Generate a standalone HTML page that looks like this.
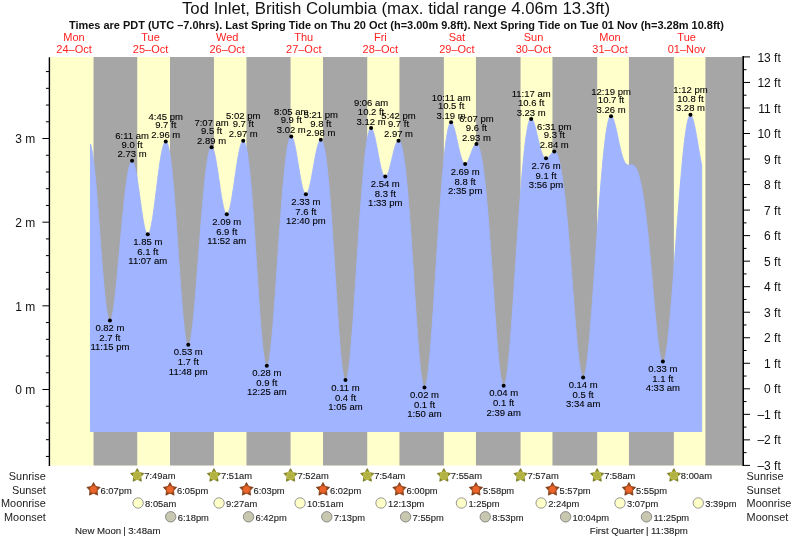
<!DOCTYPE html>
<html><head><meta charset="utf-8"><style>
html,body{margin:0;padding:0;background:#fff;}
svg{display:block;will-change:transform}
text{font-family:'Liberation Sans',Arial,sans-serif;fill:#111}
.lab{font-size:9.5px;text-anchor:middle;fill:#000;stroke:#000;stroke-width:0.1px}
.ax{font-size:12px}
.day{font-size:11px;fill:#f22;text-anchor:middle}
.title{font-size:16.8px;text-anchor:middle}
.sub{font-size:10.97px;font-weight:bold;text-anchor:middle}
.row{font-size:10.9px;fill:#222}
.bt{font-size:9.85px;fill:#222;stroke:#222;stroke-width:0.12px}
</style></head><body>
<svg width="793" height="539" viewBox="0 0 793 539">
<rect x="50" y="57" width="692.6" height="408.5" fill="#ffffcc"/>
<rect x="93.53" y="57" width="43.71" height="408.5" fill="#a6a6a6"/>
<rect x="170.01" y="57" width="43.93" height="408.5" fill="#a6a6a6"/>
<rect x="246.48" y="57" width="44.08" height="408.5" fill="#a6a6a6"/>
<rect x="323.00" y="57" width="44.24" height="408.5" fill="#a6a6a6"/>
<rect x="399.47" y="57" width="44.40" height="408.5" fill="#a6a6a6"/>
<rect x="475.94" y="57" width="44.62" height="408.5" fill="#a6a6a6"/>
<rect x="552.46" y="57" width="44.72" height="408.5" fill="#a6a6a6"/>
<rect x="628.93" y="57" width="44.94" height="408.5" fill="#a6a6a6"/>
<rect x="705.40" y="57" width="37.20" height="408.5" fill="#a6a6a6"/>
<polygon points="90.50,431.53 90.50,144.06 90.66,144.59 90.82,145.17 90.98,145.78 91.14,146.44 91.30,147.14 91.46,147.87 91.62,148.65 91.78,149.47 91.94,150.33 92.10,151.23 92.25,152.17 92.41,153.15 92.57,154.17 92.73,155.23 92.89,156.32 93.05,157.46 93.21,158.64 93.37,159.86 93.53,161.11 93.69,162.41 93.85,163.74 94.01,165.11 94.17,166.51 94.33,167.95 94.49,169.43 94.65,170.94 94.81,172.49 94.97,174.07 95.13,175.69 95.29,177.34 95.45,179.02 95.61,180.73 95.76,182.47 95.92,184.24 96.08,186.04 96.24,187.87 96.40,189.73 96.56,191.61 96.72,193.51 96.88,195.44 97.04,197.40 97.20,199.37 97.36,201.37 97.52,203.38 97.68,205.42 97.84,207.47 98.00,209.54 98.16,211.62 98.32,213.72 98.48,215.82 98.64,217.94 98.80,220.07 98.96,222.21 99.11,224.36 99.27,226.51 99.43,228.67 99.59,230.83 99.75,232.99 99.91,235.16 100.07,237.32 100.23,239.48 100.39,241.64 100.55,243.79 100.71,245.93 100.87,248.07 101.03,250.20 101.19,252.32 101.35,254.43 101.51,256.52 101.67,258.60 101.83,260.67 101.99,262.72 102.15,264.75 102.31,266.76 102.47,268.75 102.62,270.71 102.78,272.66 102.94,274.58 103.10,276.47 103.26,278.34 103.42,280.17 103.58,281.98 103.74,283.76 103.90,285.51 104.06,287.22 104.22,288.90 104.38,290.55 104.54,292.16 104.70,293.73 104.86,295.26 105.02,296.76 105.18,298.21 105.34,299.63 105.50,301.01 105.66,302.34 105.82,303.63 105.97,304.87 106.13,306.07 106.29,307.23 106.45,308.34 106.61,309.40 106.77,310.42 106.93,311.39 107.09,312.31 107.25,313.19 107.41,314.01 107.57,314.79 107.73,315.51 107.89,316.19 108.05,316.81 108.21,317.39 108.37,317.91 108.53,318.38 108.69,318.80 108.85,319.17 109.01,319.49 109.17,319.76 109.33,319.98 109.48,320.14 109.64,320.26 109.80,320.32 109.96,320.33 110.12,320.30 110.28,320.21 110.44,320.07 110.60,319.88 110.76,319.64 110.92,319.35 111.08,319.01 111.24,318.63 111.40,318.19 111.56,317.71 111.72,317.18 111.88,316.61 112.04,315.99 112.20,315.32 112.36,314.61 112.52,313.86 112.68,313.06 112.83,312.22 112.99,311.34 113.15,310.42 113.31,309.46 113.47,308.45 113.63,307.41 113.79,306.34 113.95,305.22 114.11,304.07 114.27,302.89 114.43,301.67 114.59,300.41 114.75,299.13 114.91,297.81 115.07,296.47 115.23,295.09 115.39,293.69 115.55,292.26 115.71,290.80 115.87,289.32 116.03,287.82 116.19,286.29 116.34,284.74 116.50,283.17 116.66,281.58 116.82,279.97 116.98,278.34 117.14,276.70 117.30,275.04 117.46,273.37 117.62,271.68 117.78,269.98 117.94,268.27 118.10,266.55 118.26,264.81 118.42,263.07 118.58,261.33 118.74,259.57 118.90,257.81 119.06,256.05 119.22,254.28 119.38,252.50 119.54,250.73 119.69,248.96 119.85,247.18 120.01,245.41 120.17,243.63 120.33,241.86 120.49,240.09 120.65,238.33 120.81,236.57 120.97,234.81 121.13,233.07 121.29,231.32 121.45,229.59 121.61,227.87 121.77,226.15 121.93,224.44 122.09,222.75 122.25,221.06 122.41,219.39 122.57,217.73 122.73,216.08 122.89,214.45 123.05,212.83 123.20,211.23 123.36,209.64 123.52,208.06 123.68,206.51 123.84,204.97 124.00,203.45 124.16,201.95 124.32,200.46 124.48,199.00 124.64,197.56 124.80,196.13 124.96,194.73 125.12,193.35 125.28,191.99 125.44,190.66 125.60,189.34 125.76,188.05 125.92,186.79 126.08,185.55 126.24,184.34 126.40,183.15 126.55,181.98 126.71,180.85 126.87,179.74 127.03,178.66 127.19,177.61 127.35,176.58 127.51,175.59 127.67,174.62 127.83,173.68 127.99,172.78 128.15,171.91 128.31,171.06 128.47,170.25 128.63,169.47 128.79,168.73 128.95,168.01 129.11,167.33 129.27,166.68 129.43,166.07 129.59,165.49 129.75,164.95 129.91,164.44 130.06,163.97 130.22,163.53 130.38,163.13 130.54,162.76 130.70,162.43 130.86,162.14 131.02,161.89 131.18,161.67 131.34,161.48 131.50,161.34 131.66,161.23 131.82,161.16 131.98,161.12 132.14,161.13 132.30,161.17 132.46,161.24 132.62,161.36 132.78,161.51 132.94,161.70 133.10,161.92 133.26,162.18 133.41,162.48 133.57,162.81 133.73,163.18 133.89,163.58 134.05,164.01 134.21,164.49 134.37,164.99 134.53,165.53 134.69,166.10 134.85,166.70 135.01,167.34 135.17,168.00 135.33,168.70 135.49,169.42 135.65,170.17 135.81,170.96 135.97,171.77 136.13,172.60 136.29,173.46 136.45,174.35 136.61,175.26 136.77,176.19 136.92,177.15 137.08,178.13 137.24,179.12 137.40,180.14 137.56,181.17 137.72,182.22 137.88,183.29 138.04,184.37 138.20,185.46 138.36,186.57 138.52,187.69 138.68,188.82 138.84,189.96 139.00,191.11 139.16,192.26 139.32,193.42 139.48,194.58 139.64,195.75 139.80,196.92 139.96,198.09 140.12,199.26 140.27,200.42 140.43,201.59 140.59,202.75 140.75,203.90 140.91,205.05 141.07,206.19 141.23,207.33 141.39,208.45 141.55,209.56 141.71,210.66 141.87,211.75 142.03,212.82 142.19,213.88 142.35,214.92 142.51,215.94 142.67,216.95 142.83,217.93 142.99,218.90 143.15,219.84 143.31,220.76 143.47,221.65 143.63,222.53 143.78,223.37 143.94,224.19 144.10,224.99 144.26,225.76 144.42,226.49 144.58,227.20 144.74,227.88 144.90,228.53 145.06,229.14 145.22,229.73 145.38,230.28 145.54,230.80 145.70,231.29 145.86,231.74 146.02,232.15 146.18,232.54 146.34,232.88 146.50,233.19 146.66,233.47 146.82,233.71 146.98,233.91 147.13,234.07 147.29,234.20 147.45,234.29 147.61,234.34 147.77,234.36 147.93,234.34 148.09,234.28 148.25,234.18 148.41,234.05 148.57,233.88 148.73,233.67 148.89,233.42 149.05,233.14 149.21,232.82 149.37,232.46 149.53,232.07 149.69,231.64 149.85,231.18 150.01,230.68 150.17,230.15 150.33,229.58 150.49,228.98 150.64,228.34 150.80,227.68 150.96,226.98 151.12,226.25 151.28,225.48 151.44,224.69 151.60,223.87 151.76,223.02 151.92,222.14 152.08,221.24 152.24,220.31 152.40,219.35 152.56,218.36 152.72,217.36 152.88,216.33 153.04,215.28 153.20,214.20 153.36,213.11 153.52,211.99 153.68,210.86 153.84,209.71 153.99,208.54 154.15,207.36 154.31,206.17 154.47,204.95 154.63,203.73 154.79,202.50 154.95,201.25 155.11,200.00 155.27,198.73 155.43,197.46 155.59,196.19 155.75,194.90 155.91,193.62 156.07,192.33 156.23,191.03 156.39,189.74 156.55,188.45 156.71,187.15 156.87,185.86 157.03,184.57 157.19,183.29 157.35,182.01 157.50,180.74 157.66,179.47 157.82,178.21 157.98,176.96 158.14,175.72 158.30,174.49 158.46,173.27 158.62,172.06 158.78,170.87 158.94,169.69 159.10,168.52 159.26,167.37 159.42,166.24 159.58,165.12 159.74,164.02 159.90,162.94 160.06,161.88 160.22,160.84 160.38,159.82 160.54,158.83 160.70,157.85 160.85,156.90 161.01,155.97 161.17,155.06 161.33,154.18 161.49,153.33 161.65,152.50 161.81,151.69 161.97,150.92 162.13,150.17 162.29,149.44 162.45,148.75 162.61,148.09 162.77,147.45 162.93,146.85 163.09,146.27 163.25,145.72 163.41,145.21 163.57,144.73 163.73,144.28 163.89,143.86 164.05,143.47 164.21,143.12 164.36,142.80 164.52,142.51 164.68,142.26 164.84,142.04 165.00,141.85 165.16,141.70 165.32,141.59 165.48,141.51 165.64,141.47 165.80,141.46 165.96,141.49 166.12,141.56 166.28,141.66 166.44,141.80 166.60,141.98 166.76,142.19 166.92,142.45 167.08,142.74 167.24,143.07 167.40,143.43 167.56,143.84 167.71,144.29 167.87,144.77 168.03,145.30 168.19,145.86 168.35,146.46 168.51,147.11 168.67,147.79 168.83,148.51 168.99,149.27 169.15,150.08 169.31,150.92 169.47,151.80 169.63,152.73 169.79,153.69 169.95,154.69 170.11,155.74 170.27,156.82 170.43,157.95 170.59,159.11 170.75,160.31 170.91,161.56 171.07,162.84 171.22,164.16 171.38,165.52 171.54,166.92 171.70,168.36 171.86,169.84 172.02,171.35 172.18,172.90 172.34,174.49 172.50,176.11 172.66,177.77 172.82,179.47 172.98,181.20 173.14,182.96 173.30,184.76 173.46,186.59 173.62,188.45 173.78,190.35 173.94,192.27 174.10,194.23 174.26,196.21 174.42,198.22 174.57,200.26 174.73,202.33 174.89,204.42 175.05,206.54 175.21,208.68 175.37,210.84 175.53,213.03 175.69,215.23 175.85,217.46 176.01,219.70 176.17,221.96 176.33,224.23 176.49,226.52 176.65,228.82 176.81,231.14 176.97,233.46 177.13,235.80 177.29,238.14 177.45,240.49 177.61,242.84 177.77,245.20 177.93,247.56 178.08,249.92 178.24,252.28 178.40,254.64 178.56,257.00 178.72,259.35 178.88,261.70 179.04,264.04 179.20,266.37 179.36,268.69 179.52,271.00 179.68,273.30 179.84,275.58 180.00,277.84 180.16,280.09 180.32,282.32 180.48,284.53 180.64,286.72 180.80,288.89 180.96,291.03 181.12,293.14 181.28,295.23 181.43,297.29 181.59,299.32 181.75,301.32 181.91,303.29 182.07,305.23 182.23,307.13 182.39,309.00 182.55,310.83 182.71,312.62 182.87,314.37 183.03,316.09 183.19,317.76 183.35,319.39 183.51,320.97 183.67,322.52 183.83,324.02 183.99,325.47 184.15,326.88 184.31,328.23 184.47,329.54 184.63,330.81 184.79,332.02 184.94,333.18 185.10,334.29 185.26,335.35 185.42,336.36 185.58,337.31 185.74,338.21 185.90,339.06 186.06,339.85 186.22,340.59 186.38,341.27 186.54,341.90 186.70,342.47 186.86,342.99 187.02,343.45 187.18,343.85 187.34,344.20 187.50,344.49 187.66,344.73 187.82,344.90 187.98,345.03 188.14,345.09 188.29,345.10 188.45,345.06 188.61,344.95 188.77,344.79 188.93,344.58 189.09,344.31 189.25,343.99 189.41,343.61 189.57,343.17 189.73,342.69 189.89,342.15 190.05,341.55 190.21,340.91 190.37,340.21 190.53,339.46 190.69,338.66 190.85,337.81 191.01,336.91 191.17,335.96 191.33,334.97 191.49,333.93 191.65,332.84 191.80,331.70 191.96,330.53 192.12,329.30 192.28,328.04 192.44,326.73 192.60,325.38 192.76,323.99 192.92,322.57 193.08,321.10 193.24,319.60 193.40,318.06 193.56,316.48 193.72,314.88 193.88,313.24 194.04,311.56 194.20,309.86 194.36,308.13 194.52,306.37 194.68,304.58 194.84,302.76 195.00,300.92 195.15,299.06 195.31,297.17 195.47,295.26 195.63,293.33 195.79,291.38 195.95,289.41 196.11,287.42 196.27,285.42 196.43,283.41 196.59,281.38 196.75,279.33 196.91,277.28 197.07,275.21 197.23,273.14 197.39,271.05 197.55,268.96 197.71,266.86 197.87,264.76 198.03,262.66 198.19,260.54 198.35,258.43 198.51,256.32 198.66,254.20 198.82,252.09 198.98,249.98 199.14,247.87 199.30,245.76 199.46,243.66 199.62,241.57 199.78,239.48 199.94,237.39 200.10,235.32 200.26,233.25 200.42,231.20 200.58,229.15 200.74,227.11 200.90,225.09 201.06,223.08 201.22,221.08 201.38,219.10 201.54,217.13 201.70,215.17 201.86,213.23 202.01,211.31 202.17,209.41 202.33,207.52 202.49,205.66 202.65,203.81 202.81,201.98 202.97,200.18 203.13,198.39 203.29,196.63 203.45,194.89 203.61,193.17 203.77,191.47 203.93,189.80 204.09,188.16 204.25,186.53 204.41,184.94 204.57,183.37 204.73,181.83 204.89,180.31 205.05,178.83 205.21,177.37 205.37,175.94 205.52,174.54 205.68,173.17 205.84,171.83 206.00,170.52 206.16,169.24 206.32,167.99 206.48,166.78 206.64,165.60 206.80,164.45 206.96,163.33 207.12,162.25 207.28,161.21 207.44,160.19 207.60,159.22 207.76,158.28 207.92,157.37 208.08,156.50 208.24,155.67 208.40,154.87 208.56,154.11 208.72,153.39 208.87,152.71 209.03,152.07 209.19,151.46 209.35,150.89 209.51,150.36 209.67,149.87 209.83,149.42 209.99,149.01 210.15,148.64 210.31,148.30 210.47,148.01 210.63,147.76 210.79,147.54 210.95,147.37 211.11,147.23 211.27,147.13 211.43,147.08 211.59,147.06 211.75,147.08 211.91,147.14 212.07,147.24 212.23,147.38 212.38,147.55 212.54,147.76 212.70,148.01 212.86,148.30 213.02,148.62 213.18,148.98 213.34,149.38 213.50,149.81 213.66,150.27 213.82,150.77 213.98,151.30 214.14,151.87 214.30,152.46 214.46,153.09 214.62,153.75 214.78,154.43 214.94,155.15 215.10,155.89 215.26,156.66 215.42,157.46 215.58,158.28 215.73,159.13 215.89,160.00 216.05,160.89 216.21,161.81 216.37,162.74 216.53,163.70 216.69,164.67 216.85,165.66 217.01,166.66 217.17,167.68 217.33,168.71 217.49,169.76 217.65,170.82 217.81,171.88 217.97,172.96 218.13,174.04 218.29,175.13 218.45,176.23 218.61,177.33 218.77,178.43 218.93,179.54 219.09,180.64 219.24,181.75 219.40,182.85 219.56,183.95 219.72,185.04 219.88,186.14 220.04,187.22 220.20,188.29 220.36,189.36 220.52,190.42 220.68,191.46 220.84,192.50 221.00,193.52 221.16,194.52 221.32,195.51 221.48,196.49 221.64,197.44 221.80,198.38 221.96,199.30 222.12,200.20 222.28,201.08 222.44,201.93 222.59,202.76 222.75,203.57 222.91,204.35 223.07,205.11 223.23,205.84 223.39,206.54 223.55,207.22 223.71,207.87 223.87,208.49 224.03,209.08 224.19,209.63 224.35,210.16 224.51,210.66 224.67,211.12 224.83,211.56 224.99,211.96 225.15,212.32 225.31,212.66 225.47,212.96 225.63,213.23 225.79,213.46 225.95,213.65 226.10,213.82 226.26,213.95 226.42,214.04 226.58,214.10 226.74,214.12 226.90,214.11 227.06,214.07 227.22,213.98 227.38,213.87 227.54,213.72 227.70,213.53 227.86,213.31 228.02,213.06 228.18,212.77 228.34,212.45 228.50,212.10 228.66,211.71 228.82,211.30 228.98,210.85 229.14,210.36 229.30,209.85 229.45,209.31 229.61,208.73 229.77,208.13 229.93,207.50 230.09,206.84 230.25,206.15 230.41,205.44 230.57,204.70 230.73,203.93 230.89,203.14 231.05,202.32 231.21,201.49 231.37,200.63 231.53,199.75 231.69,198.84 231.85,197.92 232.01,196.98 232.17,196.02 232.33,195.05 232.49,194.06 232.65,193.05 232.81,192.03 232.96,191.00 233.12,189.95 233.28,188.89 233.44,187.83 233.60,186.75 233.76,185.67 233.92,184.58 234.08,183.48 234.24,182.38 234.40,181.27 234.56,180.16 234.72,179.05 234.88,177.94 235.04,176.83 235.20,175.72 235.36,174.61 235.52,173.50 235.68,172.40 235.84,171.31 236.00,170.22 236.16,169.14 236.31,168.06 236.47,167.00 236.63,165.94 236.79,164.90 236.95,163.87 237.11,162.85 237.27,161.84 237.43,160.85 237.59,159.88 237.75,158.92 237.91,157.98 238.07,157.05 238.23,156.15 238.39,155.26 238.55,154.40 238.71,153.55 238.87,152.73 239.03,151.93 239.19,151.15 239.35,150.40 239.51,149.67 239.67,148.97 239.82,148.29 239.98,147.64 240.14,147.02 240.30,146.42 240.46,145.85 240.62,145.31 240.78,144.80 240.94,144.31 241.10,143.86 241.26,143.44 241.42,143.05 241.58,142.69 241.74,142.36 241.90,142.06 242.06,141.80 242.22,141.56 242.38,141.36 242.54,141.20 242.70,141.07 242.86,140.97 243.02,140.91 243.17,140.88 243.33,140.88 243.49,140.92 243.65,141.00 243.81,141.11 243.97,141.26 244.13,141.45 244.29,141.67 244.45,141.92 244.61,142.22 244.77,142.55 244.93,142.92 245.09,143.32 245.25,143.76 245.41,144.25 245.57,144.76 245.73,145.32 245.89,145.92 246.05,146.55 246.21,147.22 246.37,147.93 246.53,148.68 246.68,149.47 246.84,150.29 247.00,151.16 247.16,152.06 247.32,153.00 247.48,153.99 247.64,155.01 247.80,156.07 247.96,157.16 248.12,158.30 248.28,159.48 248.44,160.69 248.60,161.95 248.76,163.24 248.92,164.57 249.08,165.94 249.24,167.35 249.40,168.79 249.56,170.27 249.72,171.80 249.88,173.35 250.03,174.95 250.19,176.58 250.35,178.25 250.51,179.95 250.67,181.69 250.83,183.47 250.99,185.28 251.15,187.12 251.31,189.00 251.47,190.91 251.63,192.85 251.79,194.83 251.95,196.83 252.11,198.87 252.27,200.94 252.43,203.03 252.59,205.16 252.75,207.31 252.91,209.49 253.07,211.70 253.23,213.93 253.39,216.18 253.54,218.46 253.70,220.76 253.86,223.08 254.02,225.42 254.18,227.78 254.34,230.16 254.50,232.56 254.66,234.97 254.82,237.40 254.98,239.84 255.14,242.29 255.30,244.75 255.46,247.23 255.62,249.71 255.78,252.20 255.94,254.69 256.10,257.19 256.26,259.69 256.42,262.19 256.58,264.69 256.74,267.20 256.90,269.70 257.05,272.19 257.21,274.68 257.37,277.16 257.53,279.64 257.69,282.10 257.85,284.56 258.01,287.00 258.17,289.43 258.33,291.84 258.49,294.23 258.65,296.61 258.81,298.97 258.97,301.30 259.13,303.62 259.29,305.90 259.45,308.17 259.61,310.40 259.77,312.61 259.93,314.79 260.09,316.94 260.25,319.06 260.40,321.14 260.56,323.19 260.72,325.20 260.88,327.17 261.04,329.11 261.20,331.01 261.36,332.87 261.52,334.68 261.68,336.45 261.84,338.18 262.00,339.87 262.16,341.50 262.32,343.09 262.48,344.64 262.64,346.13 262.80,347.57 262.96,348.97 263.12,350.31 263.28,351.60 263.44,352.84 263.60,354.03 263.76,355.16 263.91,356.23 264.07,357.25 264.23,358.22 264.39,359.12 264.55,359.98 264.71,360.77 264.87,361.50 265.03,362.18 265.19,362.80 265.35,363.36 265.51,363.86 265.67,364.31 265.83,364.69 265.99,365.01 266.15,365.28 266.31,365.48 266.47,365.63 266.63,365.71 266.79,365.74 266.95,365.70 267.11,365.61 267.26,365.45 267.42,365.24 267.58,364.97 267.74,364.64 267.90,364.25 268.06,363.81 268.22,363.30 268.38,362.74 268.54,362.12 268.70,361.45 268.86,360.72 269.02,359.93 269.18,359.10 269.34,358.20 269.50,357.26 269.66,356.26 269.82,355.20 269.98,354.10 270.14,352.95 270.30,351.75 270.46,350.49 270.62,349.19 270.77,347.85 270.93,346.46 271.09,345.02 271.25,343.53 271.41,342.01 271.57,340.44 271.73,338.83 271.89,337.18 272.05,335.49 272.21,333.76 272.37,331.99 272.53,330.19 272.69,328.36 272.85,326.48 273.01,324.58 273.17,322.64 273.33,320.68 273.49,318.68 273.65,316.66 273.81,314.61 273.97,312.53 274.12,310.43 274.28,308.30 274.44,306.16 274.60,303.99 274.76,301.80 274.92,299.59 275.08,297.36 275.24,295.12 275.40,292.86 275.56,290.59 275.72,288.31 275.88,286.01 276.04,283.70 276.20,281.39 276.36,279.06 276.52,276.73 276.68,274.39 276.84,272.04 277.00,269.69 277.16,267.34 277.32,264.99 277.48,262.63 277.63,260.28 277.79,257.92 277.95,255.57 278.11,253.22 278.27,250.88 278.43,248.54 278.59,246.20 278.75,243.87 278.91,241.55 279.07,239.24 279.23,236.94 279.39,234.65 279.55,232.36 279.71,230.10 279.87,227.84 280.03,225.59 280.19,223.37 280.35,221.15 280.51,218.95 280.67,216.77 280.83,214.60 280.98,212.46 281.14,210.33 281.30,208.22 281.46,206.13 281.62,204.06 281.78,202.01 281.94,199.98 282.10,197.98 282.26,196.00 282.42,194.04 282.58,192.11 282.74,190.20 282.90,188.31 283.06,186.45 283.22,184.62 283.38,182.82 283.54,181.04 283.70,179.29 283.86,177.57 284.02,175.88 284.18,174.21 284.34,172.58 284.49,170.98 284.65,169.41 284.81,167.87 284.97,166.36 285.13,164.88 285.29,163.44 285.45,162.03 285.61,160.65 285.77,159.31 285.93,158.00 286.09,156.73 286.25,155.49 286.41,154.29 286.57,153.13 286.73,152.00 286.89,150.91 287.05,149.85 287.21,148.83 287.37,147.85 287.53,146.91 287.69,146.01 287.84,145.14 288.00,144.31 288.16,143.53 288.32,142.78 288.48,142.07 288.64,141.40 288.80,140.77 288.96,140.19 289.12,139.64 289.28,139.13 289.44,138.66 289.60,138.23 289.76,137.84 289.92,137.50 290.08,137.19 290.24,136.92 290.40,136.69 290.56,136.51 290.72,136.36 290.88,136.25 291.04,136.18 291.20,136.15 291.35,136.16 291.51,136.21 291.67,136.29 291.83,136.41 291.99,136.57 292.15,136.77 292.31,137.01 292.47,137.28 292.63,137.58 292.79,137.92 292.95,138.29 293.11,138.70 293.27,139.14 293.43,139.61 293.59,140.12 293.75,140.65 293.91,141.21 294.07,141.81 294.23,142.43 294.39,143.08 294.55,143.75 294.70,144.45 294.86,145.18 295.02,145.93 295.18,146.70 295.34,147.49 295.50,148.31 295.66,149.14 295.82,149.99 295.98,150.86 296.14,151.75 296.30,152.65 296.46,153.56 296.62,154.49 296.78,155.43 296.94,156.38 297.10,157.34 297.26,158.31 297.42,159.28 297.58,160.26 297.74,161.25 297.90,162.24 298.06,163.23 298.21,164.22 298.37,165.22 298.53,166.21 298.69,167.20 298.85,168.18 299.01,169.17 299.17,170.14 299.33,171.11 299.49,172.07 299.65,173.03 299.81,173.97 299.97,174.90 300.13,175.82 300.29,176.73 300.45,177.62 300.61,178.50 300.77,179.37 300.93,180.21 301.09,181.04 301.25,181.85 301.41,182.64 301.56,183.41 301.72,184.16 301.88,184.88 302.04,185.59 302.20,186.27 302.36,186.92 302.52,187.56 302.68,188.16 302.84,188.74 303.00,189.30 303.16,189.82 303.32,190.32 303.48,190.80 303.64,191.24 303.80,191.65 303.96,192.04 304.12,192.39 304.28,192.72 304.44,193.02 304.60,193.28 304.76,193.52 304.92,193.72 305.07,193.89 305.23,194.03 305.39,194.15 305.55,194.23 305.71,194.27 305.87,194.29 306.03,194.28 306.19,194.23 306.35,194.16 306.51,194.05 306.67,193.91 306.83,193.75 306.99,193.55 307.15,193.32 307.31,193.06 307.47,192.78 307.63,192.46 307.79,192.12 307.95,191.75 308.11,191.35 308.27,190.92 308.42,190.47 308.58,189.99 308.74,189.49 308.90,188.96 309.06,188.41 309.22,187.83 309.38,187.23 309.54,186.61 309.70,185.97 309.86,185.30 310.02,184.62 310.18,183.91 310.34,183.19 310.50,182.45 310.66,181.69 310.82,180.92 310.98,180.13 311.14,179.33 311.30,178.52 311.46,177.69 311.62,176.85 311.78,176.00 311.93,175.14 312.09,174.27 312.25,173.39 312.41,172.51 312.57,171.62 312.73,170.73 312.89,169.83 313.05,168.93 313.21,168.03 313.37,167.12 313.53,166.22 313.69,165.32 313.85,164.42 314.01,163.52 314.17,162.63 314.33,161.74 314.49,160.86 314.65,159.98 314.81,159.11 314.97,158.26 315.13,157.41 315.28,156.57 315.44,155.74 315.60,154.93 315.76,154.13 315.92,153.34 316.08,152.57 316.24,151.82 316.40,151.08 316.56,150.36 316.72,149.65 316.88,148.97 317.04,148.31 317.20,147.67 317.36,147.04 317.52,146.45 317.68,145.87 317.84,145.32 318.00,144.79 318.16,144.28 318.32,143.80 318.48,143.35 318.64,142.92 318.79,142.52 318.95,142.15 319.11,141.81 319.27,141.49 319.43,141.21 319.59,140.95 319.75,140.72 319.91,140.52 320.07,140.36 320.23,140.22 320.39,140.12 320.55,140.05 320.71,140.01 320.87,140.00 321.03,140.02 321.19,140.08 321.35,140.17 321.51,140.30 321.67,140.46 321.83,140.65 321.99,140.88 322.14,141.14 322.30,141.43 322.46,141.77 322.62,142.13 322.78,142.53 322.94,142.97 323.10,143.44 323.26,143.95 323.42,144.49 323.58,145.07 323.74,145.68 323.90,146.34 324.06,147.02 324.22,147.75 324.38,148.51 324.54,149.30 324.70,150.13 324.86,151.00 325.02,151.91 325.18,152.85 325.34,153.83 325.50,154.84 325.65,155.90 325.81,156.98 325.97,158.11 326.13,159.27 326.29,160.47 326.45,161.70 326.61,162.97 326.77,164.28 326.93,165.62 327.09,167.00 327.25,168.42 327.41,169.87 327.57,171.36 327.73,172.88 327.89,174.44 328.05,176.03 328.21,177.66 328.37,179.32 328.53,181.02 328.69,182.75 328.85,184.52 329.00,186.32 329.16,188.15 329.32,190.01 329.48,191.91 329.64,193.84 329.80,195.80 329.96,197.79 330.12,199.81 330.28,201.87 330.44,203.95 330.60,206.06 330.76,208.20 330.92,210.36 331.08,212.56 331.24,214.78 331.40,217.02 331.56,219.29 331.72,221.58 331.88,223.90 332.04,226.24 332.20,228.60 332.36,230.98 332.51,233.38 332.67,235.79 332.83,238.23 332.99,240.68 333.15,243.15 333.31,245.63 333.47,248.12 333.63,250.63 333.79,253.15 333.95,255.67 334.11,258.21 334.27,260.75 334.43,263.30 334.59,265.86 334.75,268.41 334.91,270.97 335.07,273.53 335.23,276.09 335.39,278.65 335.55,281.20 335.71,283.75 335.86,286.30 336.02,288.83 336.18,291.36 336.34,293.88 336.50,296.39 336.66,298.88 336.82,301.36 336.98,303.82 337.14,306.27 337.30,308.69 337.46,311.10 337.62,313.49 337.78,315.85 337.94,318.19 338.10,320.50 338.26,322.79 338.42,325.05 338.58,327.28 338.74,329.48 338.90,331.64 339.06,333.78 339.22,335.87 339.37,337.94 339.53,339.96 339.69,341.95 339.85,343.89 340.01,345.80 340.17,347.67 340.33,349.49 340.49,351.26 340.65,353.00 340.81,354.68 340.97,356.32 341.13,357.91 341.29,359.46 341.45,360.95 341.61,362.39 341.77,363.78 341.93,365.12 342.09,366.41 342.25,367.64 342.41,368.81 342.57,369.94 342.72,371.00 342.88,372.01 343.04,372.97 343.20,373.86 343.36,374.70 343.52,375.48 343.68,376.20 343.84,376.86 344.00,377.46 344.16,378.00 344.32,378.49 344.48,378.91 344.64,379.27 344.80,379.57 344.96,379.81 345.12,379.99 345.28,380.11 345.44,380.17 345.60,380.17 345.76,380.10 345.92,379.98 346.08,379.80 346.23,379.55 346.39,379.25 346.55,378.89 346.71,378.46 346.87,377.98 347.03,377.44 347.19,376.84 347.35,376.19 347.51,375.47 347.67,374.70 347.83,373.87 347.99,372.99 348.15,372.05 348.31,371.06 348.47,370.01 348.63,368.91 348.79,367.76 348.95,366.56 349.11,365.30 349.27,364.00 349.43,362.64 349.58,361.24 349.74,359.79 349.90,358.29 350.06,356.75 350.22,355.16 350.38,353.52 350.54,351.85 350.70,350.13 350.86,348.37 351.02,346.57 351.18,344.73 351.34,342.86 351.50,340.95 351.66,339.00 351.82,337.02 351.98,335.00 352.14,332.95 352.30,330.87 352.46,328.76 352.62,326.62 352.78,324.46 352.94,322.26 353.09,320.05 353.25,317.80 353.41,315.54 353.57,313.25 353.73,310.94 353.89,308.61 354.05,306.27 354.21,303.91 354.37,301.53 354.53,299.13 354.69,296.72 354.85,294.30 355.01,291.87 355.17,289.43 355.33,286.98 355.49,284.52 355.65,282.05 355.81,279.58 355.97,277.10 356.13,274.62 356.29,272.14 356.44,269.65 356.60,267.17 356.76,264.68 356.92,262.20 357.08,259.71 357.24,257.24 357.40,254.76 357.56,252.29 357.72,249.83 357.88,247.37 358.04,244.92 358.20,242.48 358.36,240.05 358.52,237.63 358.68,235.22 358.84,232.83 359.00,230.44 359.16,228.07 359.32,225.72 359.48,223.37 359.64,221.05 359.80,218.74 359.95,216.45 360.11,214.17 360.27,211.92 360.43,209.68 360.59,207.46 360.75,205.26 360.91,203.09 361.07,200.93 361.23,198.80 361.39,196.69 361.55,194.60 361.71,192.54 361.87,190.50 362.03,188.49 362.19,186.50 362.35,184.54 362.51,182.60 362.67,180.69 362.83,178.81 362.99,176.96 363.15,175.14 363.30,173.34 363.46,171.57 363.62,169.84 363.78,168.13 363.94,166.46 364.10,164.81 364.26,163.20 364.42,161.62 364.58,160.07 364.74,158.56 364.90,157.07 365.06,155.63 365.22,154.21 365.38,152.83 365.54,151.49 365.70,150.18 365.86,148.91 366.02,147.67 366.18,146.47 366.34,145.30 366.50,144.17 366.66,143.08 366.81,142.03 366.97,141.01 367.13,140.04 367.29,139.10 367.45,138.20 367.61,137.33 367.77,136.51 367.93,135.73 368.09,134.98 368.25,134.27 368.41,133.61 368.57,132.98 368.73,132.39 368.89,131.84 369.05,131.33 369.21,130.86 369.37,130.43 369.53,130.04 369.69,129.69 369.85,129.37 370.01,129.10 370.16,128.86 370.32,128.67 370.48,128.51 370.64,128.39 370.80,128.30 370.96,128.26 371.12,128.25 371.28,128.27 371.44,128.34 371.60,128.44 371.76,128.57 371.92,128.74 372.08,128.94 372.24,129.18 372.40,129.44 372.56,129.75 372.72,130.08 372.88,130.44 373.04,130.83 373.20,131.26 373.36,131.71 373.52,132.19 373.67,132.69 373.83,133.23 373.99,133.78 374.15,134.36 374.31,134.97 374.47,135.60 374.63,136.24 374.79,136.91 374.95,137.60 375.11,138.31 375.27,139.03 375.43,139.77 375.59,140.53 375.75,141.30 375.91,142.08 376.07,142.88 376.23,143.69 376.39,144.50 376.55,145.33 376.71,146.16 376.87,147.00 377.02,147.85 377.18,148.70 377.34,149.55 377.50,150.40 377.66,151.26 377.82,152.12 377.98,152.97 378.14,153.83 378.30,154.68 378.46,155.53 378.62,156.37 378.78,157.20 378.94,158.03 379.10,158.85 379.26,159.66 379.42,160.47 379.58,161.26 379.74,162.04 379.90,162.80 380.06,163.55 380.22,164.29 380.38,165.02 380.53,165.72 380.69,166.41 380.85,167.09 381.01,167.74 381.17,168.38 381.33,168.99 381.49,169.59 381.65,170.17 381.81,170.72 381.97,171.25 382.13,171.76 382.29,172.25 382.45,172.71 382.61,173.15 382.77,173.57 382.93,173.96 383.09,174.33 383.25,174.67 383.41,174.98 383.57,175.27 383.73,175.54 383.88,175.77 384.04,175.99 384.20,176.17 384.36,176.33 384.52,176.46 384.68,176.57 384.84,176.65 385.00,176.70 385.16,176.73 385.32,176.73 385.48,176.70 385.64,176.65 385.80,176.57 385.96,176.47 386.12,176.34 386.28,176.19 386.44,176.01 386.60,175.80 386.76,175.58 386.92,175.33 387.08,175.05 387.24,174.75 387.39,174.43 387.55,174.09 387.71,173.73 387.87,173.34 388.03,172.94 388.19,172.52 388.35,172.07 388.51,171.61 388.67,171.13 388.83,170.63 388.99,170.12 389.15,169.59 389.31,169.04 389.47,168.49 389.63,167.91 389.79,167.33 389.95,166.73 390.11,166.12 390.27,165.50 390.43,164.87 390.59,164.24 390.74,163.59 390.90,162.94 391.06,162.28 391.22,161.62 391.38,160.95 391.54,160.28 391.70,159.60 391.86,158.93 392.02,158.25 392.18,157.58 392.34,156.90 392.50,156.23 392.66,155.56 392.82,154.89 392.98,154.23 393.14,153.57 393.30,152.92 393.46,152.28 393.62,151.65 393.78,151.02 393.94,150.41 394.10,149.81 394.25,149.21 394.41,148.63 394.57,148.07 394.73,147.52 394.89,146.98 395.05,146.46 395.21,145.95 395.37,145.47 395.53,145.00 395.69,144.55 395.85,144.12 396.01,143.70 396.17,143.31 396.33,142.95 396.49,142.60 396.65,142.27 396.81,141.97 396.97,141.70 397.13,141.44 397.29,141.22 397.45,141.01 397.60,140.84 397.76,140.69 397.92,140.57 398.08,140.47 398.24,140.40 398.40,140.36 398.56,140.35 398.72,140.37 398.88,140.41 399.04,140.49 399.20,140.59 399.36,140.73 399.52,140.90 399.68,141.09 399.84,141.32 400.00,141.58 400.16,141.87 400.32,142.19 400.48,142.54 400.64,142.93 400.80,143.35 400.96,143.79 401.11,144.27 401.27,144.79 401.43,145.33 401.59,145.91 401.75,146.52 401.91,147.17 402.07,147.84 402.23,148.55 402.39,149.30 402.55,150.07 402.71,150.88 402.87,151.72 403.03,152.59 403.19,153.50 403.35,154.44 403.51,155.42 403.67,156.42 403.83,157.46 403.99,158.53 404.15,159.64 404.31,160.78 404.46,161.95 404.62,163.15 404.78,164.39 404.94,165.66 405.10,166.96 405.26,168.30 405.42,169.67 405.58,171.07 405.74,172.50 405.90,173.96 406.06,175.46 406.22,176.99 406.38,178.55 406.54,180.14 406.70,181.76 406.86,183.42 407.02,185.11 407.18,186.82 407.34,188.57 407.50,190.35 407.66,192.15 407.82,193.99 407.97,195.86 408.13,197.75 408.29,199.68 408.45,201.63 408.61,203.61 408.77,205.62 408.93,207.65 409.09,209.72 409.25,211.80 409.41,213.92 409.57,216.06 409.73,218.22 409.89,220.41 410.05,222.62 410.21,224.85 410.37,227.11 410.53,229.38 410.69,231.68 410.85,233.99 411.01,236.33 411.17,238.68 411.32,241.06 411.48,243.44 411.64,245.85 411.80,248.26 411.96,250.70 412.12,253.14 412.28,255.60 412.44,258.06 412.60,260.54 412.76,263.02 412.92,265.52 413.08,268.02 413.24,270.52 413.40,273.03 413.56,275.54 413.72,278.06 413.88,280.57 414.04,283.08 414.20,285.59 414.36,288.10 414.52,290.61 414.68,293.10 414.83,295.60 414.99,298.08 415.15,300.55 415.31,303.02 415.47,305.47 415.63,307.90 415.79,310.33 415.95,312.73 416.11,315.12 416.27,317.49 416.43,319.84 416.59,322.17 416.75,324.47 416.91,326.75 417.07,329.01 417.23,331.24 417.39,333.44 417.55,335.61 417.71,337.75 417.87,339.86 418.03,341.94 418.18,343.98 418.34,345.99 418.50,347.96 418.66,349.90 418.82,351.79 418.98,353.65 419.14,355.46 419.30,357.23 419.46,358.96 419.62,360.65 419.78,362.29 419.94,363.88 420.10,365.43 420.26,366.93 420.42,368.38 420.58,369.78 420.74,371.13 420.90,372.43 421.06,373.68 421.22,374.88 421.38,376.02 421.54,377.11 421.69,378.14 421.85,379.12 422.01,380.05 422.17,380.92 422.33,381.73 422.49,382.48 422.65,383.18 422.81,383.82 422.97,384.40 423.13,384.93 423.29,385.39 423.45,385.80 423.61,386.14 423.77,386.43 423.93,386.66 424.09,386.83 424.25,386.94 424.41,386.99 424.57,386.98 424.73,386.92 424.89,386.79 425.04,386.60 425.20,386.36 425.36,386.05 425.52,385.69 425.68,385.27 425.84,384.79 426.00,384.26 426.16,383.66 426.32,383.01 426.48,382.31 426.64,381.55 426.80,380.73 426.96,379.85 427.12,378.93 427.28,377.95 427.44,376.91 427.60,375.82 427.76,374.69 427.92,373.50 428.08,372.25 428.24,370.96 428.40,369.62 428.55,368.24 428.71,366.80 428.87,365.32 429.03,363.79 429.19,362.22 429.35,360.60 429.51,358.95 429.67,357.24 429.83,355.50 429.99,353.72 430.15,351.90 430.31,350.04 430.47,348.14 430.63,346.21 430.79,344.24 430.95,342.24 431.11,340.20 431.27,338.14 431.43,336.04 431.59,333.91 431.75,331.76 431.90,329.58 432.06,327.37 432.22,325.13 432.38,322.88 432.54,320.60 432.70,318.29 432.86,315.97 433.02,313.63 433.18,311.27 433.34,308.89 433.50,306.49 433.66,304.08 433.82,301.66 433.98,299.22 434.14,296.78 434.30,294.32 434.46,291.85 434.62,289.37 434.78,286.89 434.94,284.40 435.10,281.90 435.26,279.40 435.41,276.90 435.57,274.39 435.73,271.88 435.89,269.38 436.05,266.87 436.21,264.36 436.37,261.86 436.53,259.36 436.69,256.86 436.85,254.37 437.01,251.88 437.17,249.40 437.33,246.93 437.49,244.46 437.65,242.01 437.81,239.56 437.97,237.13 438.13,234.70 438.29,232.29 438.45,229.89 438.61,227.51 438.76,225.14 438.92,222.78 439.08,220.44 439.24,218.11 439.40,215.80 439.56,213.51 439.72,211.24 439.88,208.98 440.04,206.74 440.20,204.52 440.36,202.33 440.52,200.15 440.68,197.99 440.84,195.86 441.00,193.75 441.16,191.66 441.32,189.59 441.48,187.55 441.64,185.53 441.80,183.54 441.96,181.57 442.12,179.62 442.27,177.71 442.43,175.82 442.59,173.95 442.75,172.11 442.91,170.31 443.07,168.53 443.23,166.77 443.39,165.05 443.55,163.36 443.71,161.69 443.87,160.06 444.03,158.46 444.19,156.89 444.35,155.35 444.51,153.84 444.67,152.36 444.83,150.92 444.99,149.51 445.15,148.13 445.31,146.79 445.47,145.48 445.62,144.20 445.78,142.96 445.94,141.76 446.10,140.59 446.26,139.45 446.42,138.36 446.58,137.29 446.74,136.27 446.90,135.28 447.06,134.33 447.22,133.41 447.38,132.53 447.54,131.69 447.70,130.89 447.86,130.12 448.02,129.39 448.18,128.70 448.34,128.04 448.50,127.43 448.66,126.85 448.82,126.31 448.98,125.81 449.13,125.34 449.29,124.91 449.45,124.52 449.61,124.17 449.77,123.85 449.93,123.57 450.09,123.33 450.25,123.12 450.41,122.95 450.57,122.82 450.73,122.72 450.89,122.65 451.05,122.62 451.21,122.62 451.37,122.66 451.53,122.73 451.69,122.83 451.85,122.97 452.01,123.13 452.17,123.33 452.33,123.55 452.48,123.81 452.64,124.10 452.80,124.41 452.96,124.75 453.12,125.11 453.28,125.51 453.44,125.92 453.60,126.36 453.76,126.83 453.92,127.31 454.08,127.82 454.24,128.35 454.40,128.90 454.56,129.47 454.72,130.05 454.88,130.65 455.04,131.27 455.20,131.90 455.36,132.55 455.52,133.21 455.68,133.88 455.84,134.56 455.99,135.26 456.15,135.96 456.31,136.67 456.47,137.38 456.63,138.11 456.79,138.83 456.95,139.56 457.11,140.30 457.27,141.03 457.43,141.77 457.59,142.51 457.75,143.25 457.91,143.98 458.07,144.71 458.23,145.44 458.39,146.17 458.55,146.88 458.71,147.60 458.87,148.30 459.03,149.00 459.19,149.69 459.34,150.37 459.50,151.04 459.66,151.69 459.82,152.34 459.98,152.97 460.14,153.59 460.30,154.20 460.46,154.79 460.62,155.37 460.78,155.93 460.94,156.47 461.10,157.00 461.26,157.51 461.42,158.01 461.58,158.48 461.74,158.94 461.90,159.37 462.06,159.79 462.22,160.19 462.38,160.57 462.54,160.93 462.70,161.26 462.85,161.58 463.01,161.88 463.17,162.15 463.33,162.40 463.49,162.64 463.65,162.85 463.81,163.04 463.97,163.20 464.13,163.35 464.29,163.47 464.45,163.57 464.61,163.66 464.77,163.71 464.93,163.75 465.09,163.77 465.25,163.77 465.41,163.74 465.57,163.70 465.73,163.63 465.89,163.55 466.05,163.44 466.20,163.32 466.36,163.18 466.52,163.02 466.68,162.84 466.84,162.64 467.00,162.43 467.16,162.20 467.32,161.95 467.48,161.69 467.64,161.42 467.80,161.12 467.96,160.82 468.12,160.50 468.28,160.17 468.44,159.82 468.60,159.47 468.76,159.10 468.92,158.73 469.08,158.34 469.24,157.95 469.40,157.55 469.56,157.14 469.71,156.72 469.87,156.30 470.03,155.87 470.19,155.44 470.35,155.01 470.51,154.57 470.67,154.13 470.83,153.69 470.99,153.25 471.15,152.81 471.31,152.38 471.47,151.94 471.63,151.51 471.79,151.08 471.95,150.65 472.11,150.23 472.27,149.82 472.43,149.42 472.59,149.02 472.75,148.63 472.91,148.25 473.06,147.88 473.22,147.52 473.38,147.17 473.54,146.83 473.70,146.51 473.86,146.20 474.02,145.91 474.18,145.63 474.34,145.36 474.50,145.12 474.66,144.89 474.82,144.67 474.98,144.48 475.14,144.30 475.30,144.15 475.46,144.01 475.62,143.90 475.78,143.80 475.94,143.73 476.10,143.68 476.26,143.65 476.42,143.64 476.57,143.66 476.73,143.70 476.89,143.77 477.05,143.86 477.21,143.97 477.37,144.11 477.53,144.27 477.69,144.47 477.85,144.68 478.01,144.92 478.17,145.19 478.33,145.49 478.49,145.81 478.65,146.16 478.81,146.54 478.97,146.94 479.13,147.37 479.29,147.83 479.45,148.32 479.61,148.84 479.77,149.38 479.92,149.95 480.08,150.55 480.24,151.18 480.40,151.83 480.56,152.52 480.72,153.23 480.88,153.97 481.04,154.74 481.20,155.53 481.36,156.36 481.52,157.21 481.68,158.10 481.84,159.01 482.00,159.95 482.16,160.91 482.32,161.91 482.48,162.93 482.64,163.98 482.80,165.07 482.96,166.17 483.12,167.31 483.28,168.47 483.43,169.67 483.59,170.89 483.75,172.14 483.91,173.41 484.07,174.72 484.23,176.05 484.39,177.41 484.55,178.79 484.71,180.21 484.87,181.65 485.03,183.12 485.19,184.61 485.35,186.13 485.51,187.68 485.67,189.26 485.83,190.86 485.99,192.49 486.15,194.14 486.31,195.83 486.47,197.53 486.63,199.26 486.78,201.02 486.94,202.81 487.10,204.61 487.26,206.45 487.42,208.30 487.58,210.19 487.74,212.09 487.90,214.02 488.06,215.97 488.22,217.94 488.38,219.94 488.54,221.96 488.70,224.00 488.86,226.06 489.02,228.14 489.18,230.24 489.34,232.36 489.50,234.50 489.66,236.66 489.82,238.83 489.98,241.02 490.14,243.23 490.29,245.46 490.45,247.69 490.61,249.95 490.77,252.21 490.93,254.49 491.09,256.78 491.25,259.09 491.41,261.40 491.57,263.72 491.73,266.05 491.89,268.39 492.05,270.73 492.21,273.08 492.37,275.43 492.53,277.79 492.69,280.15 492.85,282.51 493.01,284.87 493.17,287.23 493.33,289.59 493.49,291.95 493.64,294.30 493.80,296.65 493.96,298.99 494.12,301.32 494.28,303.64 494.44,305.95 494.60,308.26 494.76,310.55 494.92,312.82 495.08,315.08 495.24,317.33 495.40,319.56 495.56,321.77 495.72,323.96 495.88,326.13 496.04,328.27 496.20,330.40 496.36,332.50 496.52,334.57 496.68,336.62 496.84,338.64 497.00,340.63 497.15,342.59 497.31,344.52 497.47,346.41 497.63,348.28 497.79,350.10 497.95,351.90 498.11,353.65 498.27,355.37 498.43,357.05 498.59,358.69 498.75,360.28 498.91,361.84 499.07,363.35 499.23,364.83 499.39,366.25 499.55,367.63 499.71,368.97 499.87,370.26 500.03,371.50 500.19,372.69 500.35,373.84 500.50,374.93 500.66,375.98 500.82,376.97 500.98,377.91 501.14,378.80 501.30,379.64 501.46,380.43 501.62,381.16 501.78,381.84 501.94,382.46 502.10,383.03 502.26,383.55 502.42,384.01 502.58,384.41 502.74,384.76 502.90,385.06 503.06,385.29 503.22,385.48 503.38,385.60 503.54,385.67 503.70,385.69 503.86,385.64 504.01,385.55 504.17,385.39 504.33,385.18 504.49,384.92 504.65,384.60 504.81,384.22 504.97,383.79 505.13,383.30 505.29,382.76 505.45,382.17 505.61,381.52 505.77,380.82 505.93,380.06 506.09,379.25 506.25,378.39 506.41,377.48 506.57,376.52 506.73,375.51 506.89,374.44 507.05,373.33 507.21,372.17 507.36,370.96 507.52,369.71 507.68,368.40 507.84,367.05 508.00,365.66 508.16,364.22 508.32,362.74 508.48,361.22 508.64,359.65 508.80,358.04 508.96,356.40 509.12,354.71 509.28,352.98 509.44,351.22 509.60,349.42 509.76,347.59 509.92,345.72 510.08,343.82 510.24,341.88 510.40,339.91 510.56,337.92 510.72,335.89 510.87,333.84 511.03,331.75 511.19,329.64 511.35,327.51 511.51,325.35 511.67,323.17 511.83,320.96 511.99,318.74 512.15,316.49 512.31,314.22 512.47,311.94 512.63,309.64 512.79,307.32 512.95,304.99 513.11,302.64 513.27,300.29 513.43,297.91 513.59,295.53 513.75,293.14 513.91,290.74 514.07,288.33 514.22,285.91 514.38,283.49 514.54,281.06 514.70,278.63 514.86,276.20 515.02,273.76 515.18,271.32 515.34,268.88 515.50,266.44 515.66,264.00 515.82,261.56 515.98,259.12 516.14,256.69 516.30,254.26 516.46,251.84 516.62,249.42 516.78,247.01 516.94,244.60 517.10,242.20 517.26,239.82 517.42,237.43 517.58,235.06 517.73,232.70 517.89,230.35 518.05,228.02 518.21,225.69 518.37,223.38 518.53,221.08 518.69,218.79 518.85,216.52 519.01,214.26 519.17,212.02 519.33,209.79 519.49,207.58 519.65,205.39 519.81,203.21 519.97,201.06 520.13,198.92 520.29,196.80 520.45,194.70 520.61,192.62 520.77,190.56 520.93,188.52 521.08,186.50 521.24,184.50 521.40,182.53 521.56,180.57 521.72,178.64 521.88,176.74 522.04,174.86 522.20,173.00 522.36,171.16 522.52,169.36 522.68,167.57 522.84,165.82 523.00,164.09 523.16,162.38 523.32,160.71 523.48,159.06 523.64,157.44 523.80,155.84 523.96,154.28 524.12,152.75 524.28,151.24 524.44,149.77 524.59,148.33 524.75,146.91 524.91,145.53 525.07,144.18 525.23,142.86 525.39,141.58 525.55,140.32 525.71,139.10 525.87,137.92 526.03,136.76 526.19,135.64 526.35,134.56 526.51,133.51 526.67,132.49 526.83,131.51 526.99,130.57 527.15,129.66 527.31,128.78 527.47,127.94 527.63,127.14 527.79,126.37 527.94,125.64 528.10,124.94 528.26,124.28 528.42,123.66 528.58,123.07 528.74,122.52 528.90,122.01 529.06,121.53 529.22,121.09 529.38,120.68 529.54,120.31 529.70,119.98 529.86,119.68 530.02,119.41 530.18,119.18 530.34,118.98 530.50,118.82 530.66,118.70 530.82,118.60 530.98,118.54 531.14,118.51 531.30,118.52 531.45,118.55 531.61,118.62 531.77,118.72 531.93,118.84 532.09,119.00 532.25,119.19 532.41,119.40 532.57,119.64 532.73,119.91 532.89,120.20 533.05,120.52 533.21,120.87 533.37,121.24 533.53,121.63 533.69,122.04 533.85,122.48 534.01,122.94 534.17,123.41 534.33,123.91 534.49,124.42 534.65,124.95 534.80,125.50 534.96,126.06 535.12,126.64 535.28,127.23 535.44,127.84 535.60,128.45 535.76,129.08 535.92,129.72 536.08,130.36 536.24,131.02 536.40,131.68 536.56,132.35 536.72,133.02 536.88,133.70 537.04,134.38 537.20,135.07 537.36,135.75 537.52,136.44 537.68,137.13 537.84,137.82 538.00,138.50 538.16,139.19 538.31,139.87 538.47,140.55 538.63,141.22 538.79,141.89 538.95,142.55 539.11,143.20 539.27,143.85 539.43,144.49 539.59,145.12 539.75,145.74 539.91,146.35 540.07,146.95 540.23,147.54 540.39,148.12 540.55,148.69 540.71,149.24 540.87,149.78 541.03,150.31 541.19,150.82 541.35,151.32 541.51,151.80 541.66,152.27 541.82,152.72 541.98,153.16 542.14,153.58 542.30,153.98 542.46,154.37 542.62,154.74 542.78,155.09 542.94,155.43 543.10,155.75 543.26,156.05 543.42,156.34 543.58,156.60 543.74,156.85 543.90,157.09 544.06,157.30 544.22,157.50 544.38,157.68 544.54,157.84 544.70,157.99 544.86,158.12 545.02,158.23 545.17,158.32 545.33,158.40 545.49,158.46 545.65,158.51 545.81,158.54 545.97,158.56 546.13,158.56 546.29,158.55 546.45,158.52 546.61,158.48 546.77,158.42 546.93,158.36 547.09,158.28 547.25,158.18 547.41,158.08 547.57,157.97 547.73,157.84 547.89,157.71 548.05,157.56 548.21,157.41 548.37,157.25 548.52,157.08 548.68,156.90 548.84,156.72 549.00,156.53 549.16,156.34 549.32,156.14 549.48,155.94 549.64,155.73 549.80,155.53 549.96,155.32 550.12,155.11 550.28,154.89 550.44,154.68 550.60,154.47 550.76,154.27 550.92,154.06 551.08,153.86 551.24,153.66 551.40,153.46 551.56,153.27 551.72,153.09 551.88,152.91 552.03,152.74 552.19,152.58 552.35,152.42 552.51,152.28 552.67,152.14 552.83,152.01 552.99,151.90 553.15,151.80 553.31,151.70 553.47,151.63 553.63,151.56 553.79,151.51 553.95,151.47 554.11,151.45 554.27,151.44 554.43,151.45 554.59,151.47 554.75,151.51 554.91,151.57 555.07,151.64 555.23,151.74 555.38,151.85 555.54,151.98 555.70,152.13 555.86,152.29 556.02,152.48 556.18,152.69 556.34,152.92 556.50,153.16 556.66,153.43 556.82,153.72 556.98,154.03 557.14,154.36 557.30,154.72 557.46,155.09 557.62,155.49 557.78,155.90 557.94,156.34 558.10,156.81 558.26,157.29 558.42,157.80 558.58,158.32 558.74,158.88 558.89,159.45 559.05,160.05 559.21,160.66 559.37,161.30 559.53,161.97 559.69,162.65 559.85,163.36 560.01,164.09 560.17,164.85 560.33,165.62 560.49,166.42 560.65,167.24 560.81,168.09 560.97,168.95 561.13,169.84 561.29,170.75 561.45,171.69 561.61,172.64 561.77,173.62 561.93,174.62 562.09,175.64 562.24,176.69 562.40,177.76 562.56,178.85 562.72,179.96 562.88,181.09 563.04,182.25 563.20,183.43 563.36,184.63 563.52,185.85 563.68,187.10 563.84,188.36 564.00,189.65 564.16,190.96 564.32,192.30 564.48,193.65 564.64,195.03 564.80,196.43 564.96,197.85 565.12,199.29 565.28,200.75 565.44,202.24 565.60,203.74 565.75,205.27 565.91,206.82 566.07,208.39 566.23,209.98 566.39,211.60 566.55,213.23 566.71,214.88 566.87,216.56 567.03,218.25 567.19,219.97 567.35,221.70 567.51,223.46 567.67,225.23 567.83,227.02 567.99,228.83 568.15,230.66 568.31,232.51 568.47,234.38 568.63,236.26 568.79,238.16 568.95,240.07 569.11,242.01 569.26,243.95 569.42,245.92 569.58,247.89 569.74,249.89 569.90,251.89 570.06,253.91 570.22,255.94 570.38,257.98 570.54,260.03 570.70,262.09 570.86,264.16 571.02,266.24 571.18,268.33 571.34,270.43 571.50,272.53 571.66,274.64 571.82,276.75 571.98,278.86 572.14,280.98 572.30,283.10 572.46,285.22 572.61,287.34 572.77,289.46 572.93,291.58 573.09,293.70 573.25,295.81 573.41,297.91 573.57,300.01 573.73,302.11 573.89,304.19 574.05,306.27 574.21,308.33 574.37,310.39 574.53,312.43 574.69,314.46 574.85,316.47 575.01,318.47 575.17,320.45 575.33,322.41 575.49,324.36 575.65,326.28 575.81,328.18 575.97,330.06 576.12,331.92 576.28,333.75 576.44,335.56 576.60,337.34 576.76,339.09 576.92,340.81 577.08,342.51 577.24,344.17 577.40,345.80 577.56,347.40 577.72,348.97 577.88,350.50 578.04,351.99 578.20,353.45 578.36,354.87 578.52,356.26 578.68,357.60 578.84,358.91 579.00,360.17 579.16,361.40 579.32,362.58 579.47,363.72 579.63,364.81 579.79,365.86 579.95,366.87 580.11,367.83 580.27,368.74 580.43,369.61 580.59,370.43 580.75,371.20 580.91,371.93 581.07,372.61 581.23,373.23 581.39,373.81 581.55,374.34 581.71,374.82 581.87,375.25 582.03,375.62 582.19,375.95 582.35,376.23 582.51,376.45 582.67,376.62 582.83,376.75 582.98,376.82 583.14,376.83 583.30,376.80 583.46,376.72 583.62,376.58 583.78,376.39 583.94,376.15 584.10,375.86 584.26,375.52 584.42,375.12 584.58,374.68 584.74,374.18 584.90,373.64 585.06,373.04 585.22,372.40 585.38,371.70 585.54,370.96 585.70,370.17 585.86,369.33 586.02,368.44 586.18,367.50 586.33,366.52 586.49,365.49 586.65,364.42 586.81,363.30 586.97,362.14 587.13,360.93 587.29,359.68 587.45,358.39 587.61,357.06 587.77,355.68 587.93,354.27 588.09,352.81 588.25,351.32 588.41,349.79 588.57,348.22 588.73,346.61 588.89,344.97 589.05,343.30 589.21,341.59 589.37,339.85 589.53,338.07 589.69,336.27 589.84,334.43 590.00,332.57 590.16,330.68 590.32,328.76 590.48,326.81 590.64,324.84 590.80,322.84 590.96,320.82 591.12,318.78 591.28,316.72 591.44,314.63 591.60,312.53 591.76,310.40 591.92,308.26 592.08,306.10 592.24,303.92 592.40,301.73 592.56,299.53 592.72,297.31 592.88,295.08 593.04,292.84 593.19,290.59 593.35,288.32 593.51,286.05 593.67,283.77 593.83,281.49 593.99,279.19 594.15,276.89 594.31,274.59 594.47,272.28 594.63,269.97 594.79,267.66 594.95,265.34 595.11,263.03 595.27,260.71 595.43,258.39 595.59,256.08 595.75,253.77 595.91,251.46 596.07,249.15 596.23,246.84 596.39,244.54 596.55,242.25 596.70,239.96 596.86,237.68 597.02,235.40 597.18,233.13 597.34,230.87 597.50,228.62 597.66,226.38 597.82,224.14 597.98,221.92 598.14,219.71 598.30,217.50 598.46,215.31 598.62,213.13 598.78,210.97 598.94,208.81 599.10,206.67 599.26,204.54 599.42,202.43 599.58,200.33 599.74,198.25 599.90,196.18 600.05,194.13 600.21,192.10 600.37,190.08 600.53,188.08 600.69,186.10 600.85,184.14 601.01,182.19 601.17,180.26 601.33,178.36 601.49,176.47 601.65,174.61 601.81,172.76 601.97,170.94 602.13,169.14 602.29,167.36 602.45,165.60 602.61,163.87 602.77,162.16 602.93,160.48 603.09,158.82 603.25,157.19 603.41,155.58 603.56,154.00 603.72,152.44 603.88,150.91 604.04,149.41 604.20,147.94 604.36,146.49 604.52,145.08 604.68,143.69 604.84,142.34 605.00,141.01 605.16,139.72 605.32,138.45 605.48,137.22 605.64,136.02 605.80,134.85 605.96,133.71 606.12,132.61 606.28,131.54 606.44,130.51 606.60,129.50 606.76,128.54 606.91,127.60 607.07,126.71 607.23,125.84 607.39,125.02 607.55,124.22 607.71,123.47 607.87,122.75 608.03,122.06 608.19,121.41 608.35,120.80 608.51,120.22 608.67,119.68 608.83,119.18 608.99,118.71 609.15,118.28 609.31,117.88 609.47,117.52 609.63,117.19 609.79,116.91 609.95,116.65 610.11,116.43 610.27,116.25 610.42,116.10 610.58,115.99 610.74,115.90 610.90,115.86 611.06,115.84 611.22,115.86 611.38,115.91 611.54,115.99 611.70,116.11 611.86,116.25 612.02,116.43 612.18,116.63 612.34,116.87 612.50,117.13 612.66,117.42 612.82,117.73 612.98,118.08 613.14,118.45 613.30,118.84 613.46,119.26 613.62,119.70 613.77,120.16 613.93,120.65 614.09,121.15 614.25,121.68 614.41,122.23 614.57,122.79 614.73,123.38 614.89,123.97 615.05,124.59 615.21,125.22 615.37,125.87 615.53,126.52 615.69,127.20 615.85,127.88 616.01,128.57 616.17,129.28 616.33,129.99 616.49,130.71 616.65,131.44 616.81,132.17 616.97,132.91 617.13,133.66 617.28,134.40 617.44,135.16 617.60,135.91 617.76,136.67 617.92,137.42 618.08,138.18 618.24,138.93 618.40,139.69 618.56,140.44 618.72,141.19 618.88,141.93 619.04,142.67 619.20,143.41 619.36,144.14 619.52,144.86 619.68,145.57 619.84,146.28 620.00,146.98 620.16,147.67 620.32,148.35 620.48,149.02 620.63,149.68 620.79,150.33 620.95,150.97 621.11,151.60 621.27,152.21 621.43,152.81 621.59,153.40 621.75,153.98 621.91,154.54 622.07,155.09 622.23,155.62 622.39,156.14 622.55,156.65 622.71,157.14 622.87,157.61 623.03,158.07 623.19,158.52 623.35,158.95 623.51,159.36 623.67,159.76 623.83,160.14 623.99,160.51 624.14,160.86 624.30,161.20 624.46,161.52 624.62,161.82 624.78,162.11 624.94,162.39 625.10,162.65 625.26,162.89 625.42,163.12 625.58,163.34 625.74,163.54 625.90,163.73 626.06,163.90 626.22,164.06 626.38,164.21 626.54,164.34 626.70,164.47 626.86,164.58 627.02,164.68 627.18,164.77 627.34,164.84 627.49,164.91 627.65,164.97 627.81,165.02 627.97,165.06 628.13,165.09 628.29,165.11 628.45,165.13 628.61,165.14 628.77,165.14 628.93,165.14 629.09,165.13 629.25,165.12 629.41,165.10 629.57,165.08 629.73,165.06 629.89,165.04 630.05,165.01 630.21,164.98 630.37,164.96 630.53,164.93 630.69,164.90 630.85,164.87 631.00,164.85 631.16,164.83 631.32,164.81 631.48,164.80 631.64,164.78 631.80,164.78 631.96,164.78 632.12,164.78 632.28,164.79 632.44,164.81 632.60,164.83 632.76,164.87 632.92,164.91 633.08,164.96 633.24,165.01 633.40,165.08 633.56,165.16 633.72,165.25 633.88,165.35 634.04,165.46 634.20,165.58 634.35,165.71 634.51,165.85 634.67,166.01 634.83,166.18 634.99,166.37 635.15,166.56 635.31,166.77 635.47,167.00 635.63,167.23 635.79,167.49 635.95,167.75 636.11,168.03 636.27,168.33 636.43,168.64 636.59,168.97 636.75,169.31 636.91,169.66 637.07,170.03 637.23,170.42 637.39,170.82 637.55,171.24 637.71,171.67 637.86,172.12 638.02,172.59 638.18,173.07 638.34,173.57 638.50,174.08 638.66,174.61 638.82,175.15 638.98,175.71 639.14,176.29 639.30,176.88 639.46,177.49 639.62,178.12 639.78,178.76 639.94,179.41 640.10,180.09 640.26,180.77 640.42,181.48 640.58,182.20 640.74,182.94 640.90,183.69 641.06,184.46 641.21,185.25 641.37,186.05 641.53,186.87 641.69,187.71 641.85,188.56 642.01,189.43 642.17,190.31 642.33,191.22 642.49,192.13 642.65,193.07 642.81,194.02 642.97,194.99 643.13,195.98 643.29,196.99 643.45,198.01 643.61,199.05 643.77,200.10 643.93,201.18 644.09,202.27 644.25,203.38 644.41,204.51 644.57,205.66 644.72,206.82 644.88,208.00 645.04,209.20 645.20,210.42 645.36,211.66 645.52,212.92 645.68,214.19 645.84,215.48 646.00,216.80 646.16,218.13 646.32,219.47 646.48,220.84 646.64,222.23 646.80,223.63 646.96,225.05 647.12,226.49 647.28,227.95 647.44,229.43 647.60,230.92 647.76,232.43 647.92,233.96 648.07,235.51 648.23,237.07 648.39,238.66 648.55,240.25 648.71,241.87 648.87,243.50 649.03,245.14 649.19,246.80 649.35,248.48 649.51,250.17 649.67,251.87 649.83,253.59 649.99,255.32 650.15,257.06 650.31,258.81 650.47,260.58 650.63,262.35 650.79,264.14 650.95,265.93 651.11,267.74 651.27,269.55 651.43,271.37 651.58,273.19 651.74,275.02 651.90,276.86 652.06,278.70 652.22,280.54 652.38,282.38 652.54,284.23 652.70,286.08 652.86,287.92 653.02,289.77 653.18,291.61 653.34,293.45 653.50,295.29 653.66,297.12 653.82,298.94 653.98,300.76 654.14,302.57 654.30,304.37 654.46,306.16 654.62,307.94 654.78,309.71 654.93,311.46 655.09,313.20 655.25,314.92 655.41,316.63 655.57,318.32 655.73,319.99 655.89,321.65 656.05,323.28 656.21,324.89 656.37,326.48 656.53,328.04 656.69,329.58 656.85,331.10 657.01,332.59 657.17,334.05 657.33,335.48 657.49,336.89 657.65,338.26 657.81,339.61 657.97,340.92 658.13,342.20 658.29,343.44 658.44,344.65 658.60,345.83 658.76,346.97 658.92,348.07 659.08,349.14 659.24,350.17 659.40,351.16 659.56,352.11 659.72,353.02 659.88,353.89 660.04,354.71 660.20,355.50 660.36,356.24 660.52,356.94 660.68,357.60 660.84,358.22 661.00,358.78 661.16,359.31 661.32,359.79 661.48,360.22 661.64,360.61 661.79,360.95 661.95,361.25 662.11,361.49 662.27,361.70 662.43,361.85 662.59,361.96 662.75,362.02 662.91,362.03 663.07,362.00 663.23,361.92 663.39,361.79 663.55,361.61 663.71,361.38 663.87,361.11 664.03,360.79 664.19,360.43 664.35,360.01 664.51,359.55 664.67,359.05 664.83,358.50 664.99,357.90 665.15,357.25 665.30,356.56 665.46,355.83 665.62,355.05 665.78,354.23 665.94,353.36 666.10,352.45 666.26,351.50 666.42,350.50 666.58,349.47 666.74,348.39 666.90,347.27 667.06,346.11 667.22,344.91 667.38,343.68 667.54,342.40 667.70,341.09 667.86,339.74 668.02,338.35 668.18,336.93 668.34,335.48 668.50,333.99 668.65,332.47 668.81,330.92 668.97,329.33 669.13,327.72 669.29,326.07 669.45,324.40 669.61,322.69 669.77,320.96 669.93,319.21 670.09,317.43 670.25,315.62 670.41,313.79 670.57,311.93 670.73,310.06 670.89,308.16 671.05,306.24 671.21,304.31 671.37,302.35 671.53,300.38 671.69,298.38 671.85,296.38 672.01,294.35 672.16,292.32 672.32,290.27 672.48,288.20 672.64,286.12 672.80,284.04 672.96,281.94 673.12,279.83 673.28,277.71 673.44,275.58 673.60,273.45 673.76,271.31 673.92,269.16 674.08,267.01 674.24,264.85 674.40,262.69 674.56,260.52 674.72,258.36 674.88,256.19 675.04,254.01 675.20,251.84 675.36,249.67 675.51,247.49 675.67,245.32 675.83,243.15 675.99,240.98 676.15,238.81 676.31,236.65 676.47,234.49 676.63,232.33 676.79,230.18 676.95,228.03 677.11,225.89 677.27,223.75 677.43,221.62 677.59,219.50 677.75,217.38 677.91,215.27 678.07,213.17 678.23,211.08 678.39,209.00 678.55,206.93 678.71,204.87 678.87,202.81 679.02,200.77 679.18,198.74 679.34,196.73 679.50,194.72 679.66,192.73 679.82,190.75 679.98,188.79 680.14,186.84 680.30,184.90 680.46,182.98 680.62,181.08 680.78,179.19 680.94,177.32 681.10,175.46 681.26,173.63 681.42,171.81 681.58,170.01 681.74,168.23 681.90,166.47 682.06,164.73 682.22,163.02 682.37,161.32 682.53,159.65 682.69,157.99 682.85,156.37 683.01,154.76 683.17,153.18 683.33,151.63 683.49,150.10 683.65,148.60 683.81,147.12 683.97,145.67 684.13,144.25 684.29,142.86 684.45,141.49 684.61,140.16 684.77,138.85 684.93,137.58 685.09,136.34 685.25,135.13 685.41,133.95 685.57,132.80 685.73,131.69 685.88,130.61 686.04,129.56 686.20,128.55 686.36,127.57 686.52,126.63 686.68,125.73 686.84,124.86 687.00,124.02 687.16,123.22 687.32,122.46 687.48,121.74 687.64,121.06 687.80,120.41 687.96,119.80 688.12,119.22 688.28,118.69 688.44,118.19 688.60,117.73 688.76,117.31 688.92,116.93 689.08,116.58 689.23,116.28 689.39,116.01 689.55,115.78 689.71,115.59 689.87,115.43 690.03,115.31 690.19,115.23 690.35,115.19 690.51,115.18 690.67,115.21 690.83,115.27 690.99,115.37 691.15,115.51 691.31,115.68 691.47,115.88 691.63,116.12 691.79,116.39 691.95,116.69 692.11,117.02 692.27,117.39 692.43,117.78 692.59,118.21 692.74,118.66 692.90,119.14 693.06,119.66 693.22,120.19 693.38,120.76 693.54,121.35 693.70,121.96 693.86,122.60 694.02,123.26 694.18,123.94 694.34,124.65 694.50,125.37 694.66,126.12 694.82,126.88 694.98,127.66 695.14,128.46 695.30,129.27 695.46,130.10 695.62,130.95 695.78,131.80 695.94,132.67 696.09,133.55 696.25,134.44 696.41,135.34 696.57,136.25 696.73,137.17 696.89,138.09 697.05,139.02 697.21,139.96 697.37,140.90 697.53,141.84 697.69,142.78 697.85,143.73 698.01,144.68 698.17,145.62 698.33,146.57 698.49,147.51 698.65,148.46 698.81,149.40 698.97,150.33 699.13,151.26 699.29,152.19 699.45,153.11 699.60,154.02 699.76,154.92 699.92,155.82 700.08,156.71 700.24,157.59 700.40,158.46 700.56,159.31 700.72,160.16 700.88,161.00 701.04,161.82 701.20,162.63 701.36,163.43 701.52,164.21 701.68,164.98 701.70,165.09 701.70,431.53" fill="#a0b4ff" stroke="#a0b4ff" stroke-width="1" stroke-linejoin="round"/>
<circle cx="109.91" cy="320.50" r="2" fill="#000"/>
<text x="109.91" y="331.10" class="lab">0.82 m</text>
<text x="109.91" y="341.10" class="lab">2.7 ft</text>
<text x="109.91" y="350.30" class="lab">11:15 pm</text>
<circle cx="132.04" cy="160.71" r="2" fill="#000"/>
<text x="132.04" y="139.11" class="lab">6:11 am</text>
<text x="132.04" y="147.51" class="lab">9.0 ft</text>
<text x="132.04" y="157.41" class="lab">2.73 m</text>
<circle cx="147.78" cy="234.33" r="2" fill="#000"/>
<text x="147.78" y="244.93" class="lab">1.85 m</text>
<text x="147.78" y="254.93" class="lab">6.1 ft</text>
<text x="147.78" y="264.13" class="lab">11:07 am</text>
<circle cx="165.75" cy="141.47" r="2" fill="#000"/>
<text x="165.75" y="119.87" class="lab">4:45 pm</text>
<text x="165.75" y="128.27" class="lab">9.7 ft</text>
<text x="165.75" y="138.17" class="lab">2.96 m</text>
<circle cx="188.25" cy="344.76" r="2" fill="#000"/>
<text x="188.25" y="355.36" class="lab">0.53 m</text>
<text x="188.25" y="365.36" class="lab">1.7 ft</text>
<text x="188.25" y="374.56" class="lab">11:48 pm</text>
<circle cx="211.59" cy="147.32" r="2" fill="#000"/>
<text x="211.59" y="125.72" class="lab">7:07 am</text>
<text x="211.59" y="134.12" class="lab">9.5 ft</text>
<text x="211.59" y="144.02" class="lab">2.89 m</text>
<circle cx="226.75" cy="214.25" r="2" fill="#000"/>
<text x="226.75" y="224.85" class="lab">2.09 m</text>
<text x="226.75" y="234.85" class="lab">6.9 ft</text>
<text x="226.75" y="244.05" class="lab">11:52 am</text>
<circle cx="243.23" cy="140.63" r="2" fill="#000"/>
<text x="243.23" y="119.03" class="lab">5:02 pm</text>
<text x="243.23" y="127.43" class="lab">9.7 ft</text>
<text x="243.23" y="137.33" class="lab">2.97 m</text>
<circle cx="266.79" cy="365.68" r="2" fill="#000"/>
<text x="266.79" y="376.28" class="lab">0.28 m</text>
<text x="266.79" y="386.28" class="lab">0.9 ft</text>
<text x="266.79" y="395.48" class="lab">12:25 am</text>
<circle cx="291.25" cy="136.45" r="2" fill="#000"/>
<text x="291.25" y="114.85" class="lab">8:05 am</text>
<text x="291.25" y="123.25" class="lab">9.9 ft</text>
<text x="291.25" y="133.15" class="lab">3.02 m</text>
<circle cx="305.88" cy="194.17" r="2" fill="#000"/>
<text x="305.88" y="204.77" class="lab">2.33 m</text>
<text x="305.88" y="214.77" class="lab">7.6 ft</text>
<text x="305.88" y="223.97" class="lab">12:40 pm</text>
<circle cx="320.82" cy="139.79" r="2" fill="#000"/>
<text x="320.82" y="118.19" class="lab">5:21 pm</text>
<text x="320.82" y="126.59" class="lab">9.8 ft</text>
<text x="320.82" y="136.49" class="lab">2.98 m</text>
<circle cx="345.49" cy="379.90" r="2" fill="#000"/>
<text x="345.49" y="390.50" class="lab">0.11 m</text>
<text x="345.49" y="400.50" class="lab">0.4 ft</text>
<text x="345.49" y="409.70" class="lab">1:05 am</text>
<circle cx="371.07" cy="128.08" r="2" fill="#000"/>
<text x="371.07" y="106.48" class="lab">9:06 am</text>
<text x="371.07" y="114.88" class="lab">10.2 ft</text>
<text x="371.07" y="124.78" class="lab">3.12 m</text>
<circle cx="385.27" cy="176.60" r="2" fill="#000"/>
<text x="385.27" y="187.20" class="lab">2.54 m</text>
<text x="385.27" y="197.20" class="lab">8.3 ft</text>
<text x="385.27" y="206.40" class="lab">1:33 pm</text>
<circle cx="398.51" cy="140.63" r="2" fill="#000"/>
<text x="398.51" y="119.03" class="lab">5:42 pm</text>
<text x="398.51" y="127.43" class="lab">9.7 ft</text>
<text x="398.51" y="137.33" class="lab">2.97 m</text>
<circle cx="424.46" cy="387.43" r="2" fill="#000"/>
<text x="424.46" y="398.03" class="lab">0.02 m</text>
<text x="424.46" y="408.03" class="lab">0.1 ft</text>
<text x="424.46" y="417.23" class="lab">1:50 am</text>
<circle cx="451.11" cy="122.22" r="2" fill="#000"/>
<text x="451.11" y="100.62" class="lab">10:11 am</text>
<text x="451.11" y="109.02" class="lab">10.5 ft</text>
<text x="451.11" y="118.92" class="lab">3.19 m</text>
<circle cx="465.15" cy="164.05" r="2" fill="#000"/>
<text x="465.15" y="174.65" class="lab">2.69 m</text>
<text x="465.15" y="184.65" class="lab">8.8 ft</text>
<text x="465.15" y="193.85" class="lab">2:35 pm</text>
<circle cx="476.42" cy="143.98" r="2" fill="#000"/>
<text x="476.42" y="122.38" class="lab">6:07 pm</text>
<text x="476.42" y="130.78" class="lab">9.6 ft</text>
<text x="476.42" y="140.68" class="lab">2.93 m</text>
<circle cx="503.65" cy="385.75" r="2" fill="#000"/>
<text x="503.65" y="396.35" class="lab">0.04 m</text>
<text x="503.65" y="406.35" class="lab">0.1 ft</text>
<text x="503.65" y="415.55" class="lab">2:39 am</text>
<circle cx="531.19" cy="118.88" r="2" fill="#000"/>
<text x="531.19" y="97.28" class="lab">11:17 am</text>
<text x="531.19" y="105.68" class="lab">10.6 ft</text>
<text x="531.19" y="115.58" class="lab">3.23 m</text>
<circle cx="546.03" cy="158.20" r="2" fill="#000"/>
<text x="546.03" y="168.80" class="lab">2.76 m</text>
<text x="546.03" y="178.80" class="lab">9.1 ft</text>
<text x="546.03" y="188.00" class="lab">3:56 pm</text>
<circle cx="554.27" cy="151.51" r="2" fill="#000"/>
<text x="554.27" y="129.91" class="lab">6:31 pm</text>
<text x="554.27" y="138.31" class="lab">9.3 ft</text>
<text x="554.27" y="148.21" class="lab">2.84 m</text>
<circle cx="583.15" cy="377.39" r="2" fill="#000"/>
<text x="583.15" y="387.99" class="lab">0.14 m</text>
<text x="583.15" y="397.99" class="lab">0.5 ft</text>
<text x="583.15" y="407.19" class="lab">3:34 am</text>
<circle cx="611.07" cy="116.37" r="2" fill="#000"/>
<text x="611.07" y="94.77" class="lab">12:19 pm</text>
<text x="611.07" y="103.17" class="lab">10.7 ft</text>
<text x="611.07" y="113.07" class="lab">3.26 m</text>
<circle cx="662.86" cy="361.49" r="2" fill="#000"/>
<text x="662.86" y="372.09" class="lab">0.33 m</text>
<text x="662.86" y="382.09" class="lab">1.1 ft</text>
<text x="662.86" y="391.29" class="lab">4:33 am</text>
<circle cx="690.46" cy="114.70" r="2" fill="#000"/>
<text x="690.46" y="93.10" class="lab">1:12 pm</text>
<text x="690.46" y="101.50" class="lab">10.8 ft</text>
<text x="690.46" y="111.40" class="lab">3.28 m</text>
<line x1="49.4" y1="57.2" x2="49.4" y2="466" stroke="#000" stroke-width="1.4"/>
<line x1="743.2" y1="56" x2="743.2" y2="466" stroke="#000" stroke-width="1.6"/>
<line x1="45.9" y1="456.43" x2="49.4" y2="456.43" stroke="#000" stroke-width="1"/>
<line x1="45.9" y1="439.70" x2="49.4" y2="439.70" stroke="#000" stroke-width="1"/>
<line x1="45.9" y1="422.96" x2="49.4" y2="422.96" stroke="#000" stroke-width="1"/>
<line x1="45.9" y1="406.23" x2="49.4" y2="406.23" stroke="#000" stroke-width="1"/>
<line x1="42.4" y1="389.50" x2="49.4" y2="389.50" stroke="#000" stroke-width="1"/>
<text x="35.30" y="394.30" class="ax" text-anchor="end">0 m</text>
<line x1="45.9" y1="372.77" x2="49.4" y2="372.77" stroke="#000" stroke-width="1"/>
<line x1="45.9" y1="356.04" x2="49.4" y2="356.04" stroke="#000" stroke-width="1"/>
<line x1="45.9" y1="339.30" x2="49.4" y2="339.30" stroke="#000" stroke-width="1"/>
<line x1="45.9" y1="322.57" x2="49.4" y2="322.57" stroke="#000" stroke-width="1"/>
<line x1="42.4" y1="305.84" x2="49.4" y2="305.84" stroke="#000" stroke-width="1"/>
<text x="35.30" y="310.64" class="ax" text-anchor="end">1 m</text>
<line x1="45.9" y1="289.11" x2="49.4" y2="289.11" stroke="#000" stroke-width="1"/>
<line x1="45.9" y1="272.38" x2="49.4" y2="272.38" stroke="#000" stroke-width="1"/>
<line x1="45.9" y1="255.64" x2="49.4" y2="255.64" stroke="#000" stroke-width="1"/>
<line x1="45.9" y1="238.91" x2="49.4" y2="238.91" stroke="#000" stroke-width="1"/>
<line x1="42.4" y1="222.18" x2="49.4" y2="222.18" stroke="#000" stroke-width="1"/>
<text x="35.30" y="226.98" class="ax" text-anchor="end">2 m</text>
<line x1="45.9" y1="205.45" x2="49.4" y2="205.45" stroke="#000" stroke-width="1"/>
<line x1="45.9" y1="188.72" x2="49.4" y2="188.72" stroke="#000" stroke-width="1"/>
<line x1="45.9" y1="171.98" x2="49.4" y2="171.98" stroke="#000" stroke-width="1"/>
<line x1="45.9" y1="155.25" x2="49.4" y2="155.25" stroke="#000" stroke-width="1"/>
<line x1="42.4" y1="138.52" x2="49.4" y2="138.52" stroke="#000" stroke-width="1"/>
<text x="35.30" y="143.32" class="ax" text-anchor="end">3 m</text>
<line x1="45.9" y1="121.79" x2="49.4" y2="121.79" stroke="#000" stroke-width="1"/>
<line x1="45.9" y1="105.06" x2="49.4" y2="105.06" stroke="#000" stroke-width="1"/>
<line x1="45.9" y1="88.32" x2="49.4" y2="88.32" stroke="#000" stroke-width="1"/>
<line x1="45.9" y1="71.59" x2="49.4" y2="71.59" stroke="#000" stroke-width="1"/>
<line x1="743" y1="465.40" x2="750" y2="465.40" stroke="#000" stroke-width="1"/>
<text x="780.80" y="470.00" class="ax" text-anchor="end">–3 ft</text>
<line x1="743" y1="452.63" x2="746.5" y2="452.63" stroke="#000" stroke-width="1"/>
<line x1="743" y1="439.87" x2="750" y2="439.87" stroke="#000" stroke-width="1"/>
<text x="780.80" y="444.47" class="ax" text-anchor="end">–2 ft</text>
<line x1="743" y1="427.10" x2="746.5" y2="427.10" stroke="#000" stroke-width="1"/>
<line x1="743" y1="414.34" x2="750" y2="414.34" stroke="#000" stroke-width="1"/>
<text x="780.80" y="418.94" class="ax" text-anchor="end">–1 ft</text>
<line x1="743" y1="401.57" x2="746.5" y2="401.57" stroke="#000" stroke-width="1"/>
<line x1="743" y1="388.81" x2="750" y2="388.81" stroke="#000" stroke-width="1"/>
<text x="780.80" y="393.41" class="ax" text-anchor="end">0 ft</text>
<line x1="743" y1="376.04" x2="746.5" y2="376.04" stroke="#000" stroke-width="1"/>
<line x1="743" y1="363.28" x2="750" y2="363.28" stroke="#000" stroke-width="1"/>
<text x="780.80" y="367.88" class="ax" text-anchor="end">1 ft</text>
<line x1="743" y1="350.51" x2="746.5" y2="350.51" stroke="#000" stroke-width="1"/>
<line x1="743" y1="337.75" x2="750" y2="337.75" stroke="#000" stroke-width="1"/>
<text x="780.80" y="342.35" class="ax" text-anchor="end">2 ft</text>
<line x1="743" y1="324.98" x2="746.5" y2="324.98" stroke="#000" stroke-width="1"/>
<line x1="743" y1="312.22" x2="750" y2="312.22" stroke="#000" stroke-width="1"/>
<text x="780.80" y="316.82" class="ax" text-anchor="end">3 ft</text>
<line x1="743" y1="299.45" x2="746.5" y2="299.45" stroke="#000" stroke-width="1"/>
<line x1="743" y1="286.69" x2="750" y2="286.69" stroke="#000" stroke-width="1"/>
<text x="780.80" y="291.29" class="ax" text-anchor="end">4 ft</text>
<line x1="743" y1="273.92" x2="746.5" y2="273.92" stroke="#000" stroke-width="1"/>
<line x1="743" y1="261.16" x2="750" y2="261.16" stroke="#000" stroke-width="1"/>
<text x="780.80" y="265.76" class="ax" text-anchor="end">5 ft</text>
<line x1="743" y1="248.39" x2="746.5" y2="248.39" stroke="#000" stroke-width="1"/>
<line x1="743" y1="235.63" x2="750" y2="235.63" stroke="#000" stroke-width="1"/>
<text x="780.80" y="240.23" class="ax" text-anchor="end">6 ft</text>
<line x1="743" y1="222.86" x2="746.5" y2="222.86" stroke="#000" stroke-width="1"/>
<line x1="743" y1="210.10" x2="750" y2="210.10" stroke="#000" stroke-width="1"/>
<text x="780.80" y="214.70" class="ax" text-anchor="end">7 ft</text>
<line x1="743" y1="197.33" x2="746.5" y2="197.33" stroke="#000" stroke-width="1"/>
<line x1="743" y1="184.57" x2="750" y2="184.57" stroke="#000" stroke-width="1"/>
<text x="780.80" y="189.17" class="ax" text-anchor="end">8 ft</text>
<line x1="743" y1="171.80" x2="746.5" y2="171.80" stroke="#000" stroke-width="1"/>
<line x1="743" y1="159.04" x2="750" y2="159.04" stroke="#000" stroke-width="1"/>
<text x="780.80" y="163.64" class="ax" text-anchor="end">9 ft</text>
<line x1="743" y1="146.27" x2="746.5" y2="146.27" stroke="#000" stroke-width="1"/>
<line x1="743" y1="133.51" x2="750" y2="133.51" stroke="#000" stroke-width="1"/>
<text x="780.80" y="138.11" class="ax" text-anchor="end">10 ft</text>
<line x1="743" y1="120.74" x2="746.5" y2="120.74" stroke="#000" stroke-width="1"/>
<line x1="743" y1="107.98" x2="750" y2="107.98" stroke="#000" stroke-width="1"/>
<text x="780.80" y="112.58" class="ax" text-anchor="end">11 ft</text>
<line x1="743" y1="95.21" x2="746.5" y2="95.21" stroke="#000" stroke-width="1"/>
<line x1="743" y1="82.45" x2="750" y2="82.45" stroke="#000" stroke-width="1"/>
<text x="780.80" y="87.05" class="ax" text-anchor="end">12 ft</text>
<line x1="743" y1="69.68" x2="746.5" y2="69.68" stroke="#000" stroke-width="1"/>
<line x1="743" y1="56.92" x2="750" y2="56.92" stroke="#000" stroke-width="1"/>
<text x="780.80" y="61.52" class="ax" text-anchor="end">13 ft</text>
<text x="74.02" y="41.2" class="day">Mon</text>
<text x="74.02" y="52.8" class="day">24–Oct</text>
<text x="150.60" y="41.2" class="day">Tue</text>
<text x="150.60" y="52.8" class="day">25–Oct</text>
<text x="227.17" y="41.2" class="day">Wed</text>
<text x="227.17" y="52.8" class="day">26–Oct</text>
<text x="303.75" y="41.2" class="day">Thu</text>
<text x="303.75" y="52.8" class="day">27–Oct</text>
<text x="380.33" y="41.2" class="day">Fri</text>
<text x="380.33" y="52.8" class="day">28–Oct</text>
<text x="456.90" y="41.2" class="day">Sat</text>
<text x="456.90" y="52.8" class="day">29–Oct</text>
<text x="533.48" y="41.2" class="day">Sun</text>
<text x="533.48" y="52.8" class="day">30–Oct</text>
<text x="610.06" y="41.2" class="day">Mon</text>
<text x="610.06" y="52.8" class="day">31–Oct</text>
<text x="686.63" y="41.2" class="day">Tue</text>
<text x="686.63" y="52.8" class="day">01–Nov</text>
<text x="396" y="14.2" class="title">Tod Inlet, British Columbia (max. tidal range 4.06m 13.3ft)</text>
<text x="396.4" y="28.6" class="sub">Times are PDT (UTC –7.0hrs). Last Spring Tide on Thu 20 Oct (h=3.00m 9.8ft). Next Spring Tide on Tue 01 Nov (h=3.28m 10.8ft)</text>
<text x="45.8" y="479.6" class="row" text-anchor="end">Sunrise</text>
<text x="746.6" y="479.6" class="row">Sunrise</text>
<text x="45.8" y="493.5" class="row" text-anchor="end">Sunset</text>
<text x="746.6" y="493.5" class="row">Sunset</text>
<text x="45.8" y="507.0" class="row" text-anchor="end">Moonrise</text>
<text x="746.6" y="507.0" class="row">Moonrise</text>
<text x="45.8" y="520.8" class="row" text-anchor="end">Moonset</text>
<text x="746.6" y="520.8" class="row">Moonset</text>
<polygon points="137.25,468.60 139.42,472.61 143.90,473.44 140.77,476.74 141.36,481.26 137.25,479.30 133.13,481.26 133.73,476.74 130.59,473.44 135.07,472.61" fill="#8e8e1e" stroke="#6c6c18" stroke-width="0.7" stroke-linejoin="miter"/><circle cx="137.25" cy="475.60" r="3.9" fill="#b2b244" stroke="#c6c650" stroke-width="0.8"/>
<text transform="translate(144.25 479.20) scale(0.95 1.0)" class="bt">7:49am</text>
<polygon points="213.93,468.60 216.11,472.61 220.59,473.44 217.45,476.74 218.05,481.26 213.93,479.30 209.82,481.26 210.41,476.74 207.27,473.44 211.76,472.61" fill="#8e8e1e" stroke="#6c6c18" stroke-width="0.7" stroke-linejoin="miter"/><circle cx="213.93" cy="475.60" r="3.9" fill="#b2b244" stroke="#c6c650" stroke-width="0.8"/>
<text transform="translate(220.93 479.20) scale(0.95 1.0)" class="bt">7:51am</text>
<polygon points="290.56,468.60 292.74,472.61 297.22,473.44 294.08,476.74 294.68,481.26 290.56,479.30 286.45,481.26 287.04,476.74 283.90,473.44 288.39,472.61" fill="#8e8e1e" stroke="#6c6c18" stroke-width="0.7" stroke-linejoin="miter"/><circle cx="290.56" cy="475.60" r="3.9" fill="#b2b244" stroke="#c6c650" stroke-width="0.8"/>
<text transform="translate(297.56 479.20) scale(0.95 1.0)" class="bt">7:52am</text>
<polygon points="367.24,468.60 369.42,472.61 373.90,473.44 370.76,476.74 371.36,481.26 367.24,479.30 363.13,481.26 363.72,476.74 360.59,473.44 365.07,472.61" fill="#8e8e1e" stroke="#6c6c18" stroke-width="0.7" stroke-linejoin="miter"/><circle cx="367.24" cy="475.60" r="3.9" fill="#b2b244" stroke="#c6c650" stroke-width="0.8"/>
<text transform="translate(374.24 479.20) scale(0.95 1.0)" class="bt">7:54am</text>
<polygon points="443.87,468.60 446.05,472.61 450.53,473.44 447.39,476.74 447.99,481.26 443.87,479.30 439.76,481.26 440.35,476.74 437.22,473.44 441.70,472.61" fill="#8e8e1e" stroke="#6c6c18" stroke-width="0.7" stroke-linejoin="miter"/><circle cx="443.87" cy="475.60" r="3.9" fill="#b2b244" stroke="#c6c650" stroke-width="0.8"/>
<text transform="translate(450.87 479.20) scale(0.95 1.0)" class="bt">7:55am</text>
<polygon points="520.56,468.60 522.73,472.61 527.21,473.44 524.08,476.74 524.67,481.26 520.56,479.30 516.44,481.26 517.04,476.74 513.90,473.44 518.38,472.61" fill="#8e8e1e" stroke="#6c6c18" stroke-width="0.7" stroke-linejoin="miter"/><circle cx="520.56" cy="475.60" r="3.9" fill="#b2b244" stroke="#c6c650" stroke-width="0.8"/>
<text transform="translate(527.56 479.20) scale(0.95 1.0)" class="bt">7:57am</text>
<polygon points="597.19,468.60 599.36,472.61 603.84,473.44 600.71,476.74 601.30,481.26 597.19,479.30 593.07,481.26 593.67,476.74 590.53,473.44 595.01,472.61" fill="#8e8e1e" stroke="#6c6c18" stroke-width="0.7" stroke-linejoin="miter"/><circle cx="597.19" cy="475.60" r="3.9" fill="#b2b244" stroke="#c6c650" stroke-width="0.8"/>
<text transform="translate(604.19 479.20) scale(0.95 1.0)" class="bt">7:58am</text>
<polygon points="673.87,468.60 676.04,472.61 680.53,473.44 677.39,476.74 677.98,481.26 673.87,479.30 669.76,481.26 670.35,476.74 667.21,473.44 671.70,472.61" fill="#8e8e1e" stroke="#6c6c18" stroke-width="0.7" stroke-linejoin="miter"/><circle cx="673.87" cy="475.60" r="3.9" fill="#b2b244" stroke="#c6c650" stroke-width="0.8"/>
<text transform="translate(680.87 479.20) scale(0.95 1.0)" class="bt">8:00am</text>
<polygon points="93.53,482.50 95.71,486.51 100.19,487.34 97.05,490.64 97.65,495.16 93.53,493.20 89.42,495.16 90.02,490.64 86.88,487.34 91.36,486.51" fill="#94461a" stroke="#6a3412" stroke-width="0.7" stroke-linejoin="miter"/><circle cx="93.53" cy="489.50" r="3.9" fill="#ea642c" stroke="#a04a1a" stroke-width="0.8"/>
<text transform="translate(100.53 493.90) scale(0.95 1.0)" class="bt">6:07pm</text>
<polygon points="170.01,482.50 172.18,486.51 176.66,487.34 173.52,490.64 174.12,495.16 170.01,493.20 165.89,495.16 166.49,490.64 163.35,487.34 167.83,486.51" fill="#94461a" stroke="#6a3412" stroke-width="0.7" stroke-linejoin="miter"/><circle cx="170.01" cy="489.50" r="3.9" fill="#ea642c" stroke="#a04a1a" stroke-width="0.8"/>
<text transform="translate(177.01 493.90) scale(0.95 1.0)" class="bt">6:05pm</text>
<polygon points="246.48,482.50 248.65,486.51 253.13,487.34 249.99,490.64 250.59,495.16 246.48,493.20 242.36,495.16 242.96,490.64 239.82,487.34 244.30,486.51" fill="#94461a" stroke="#6a3412" stroke-width="0.7" stroke-linejoin="miter"/><circle cx="246.48" cy="489.50" r="3.9" fill="#ea642c" stroke="#a04a1a" stroke-width="0.8"/>
<text transform="translate(253.48 493.90) scale(0.95 1.0)" class="bt">6:03pm</text>
<polygon points="323.00,482.50 325.17,486.51 329.66,487.34 326.52,490.64 327.11,495.16 323.00,493.20 318.88,495.16 319.48,490.64 316.34,487.34 320.82,486.51" fill="#94461a" stroke="#6a3412" stroke-width="0.7" stroke-linejoin="miter"/><circle cx="323.00" cy="489.50" r="3.9" fill="#ea642c" stroke="#a04a1a" stroke-width="0.8"/>
<text transform="translate(330.00 493.90) scale(0.95 1.0)" class="bt">6:02pm</text>
<polygon points="399.47,482.50 401.64,486.51 406.13,487.34 402.99,490.64 403.58,495.16 399.47,493.20 395.36,495.16 395.95,490.64 392.81,487.34 397.29,486.51" fill="#94461a" stroke="#6a3412" stroke-width="0.7" stroke-linejoin="miter"/><circle cx="399.47" cy="489.50" r="3.9" fill="#ea642c" stroke="#a04a1a" stroke-width="0.8"/>
<text transform="translate(406.47 493.90) scale(0.95 1.0)" class="bt">6:00pm</text>
<polygon points="475.94,482.50 478.12,486.51 482.60,487.34 479.46,490.64 480.05,495.16 475.94,493.20 471.83,495.16 472.42,490.64 469.28,487.34 473.77,486.51" fill="#94461a" stroke="#6a3412" stroke-width="0.7" stroke-linejoin="miter"/><circle cx="475.94" cy="489.50" r="3.9" fill="#ea642c" stroke="#a04a1a" stroke-width="0.8"/>
<text transform="translate(482.94 493.90) scale(0.95 1.0)" class="bt">5:58pm</text>
<polygon points="552.46,482.50 554.64,486.51 559.12,487.34 555.98,490.64 556.58,495.16 552.46,493.20 548.35,495.16 548.94,490.64 545.81,487.34 550.29,486.51" fill="#94461a" stroke="#6a3412" stroke-width="0.7" stroke-linejoin="miter"/><circle cx="552.46" cy="489.50" r="3.9" fill="#ea642c" stroke="#a04a1a" stroke-width="0.8"/>
<text transform="translate(559.46 493.90) scale(0.95 1.0)" class="bt">5:57pm</text>
<polygon points="628.93,482.50 631.11,486.51 635.59,487.34 632.45,490.64 633.05,495.16 628.93,493.20 624.82,495.16 625.42,490.64 622.28,487.34 626.76,486.51" fill="#94461a" stroke="#6a3412" stroke-width="0.7" stroke-linejoin="miter"/><circle cx="628.93" cy="489.50" r="3.9" fill="#ea642c" stroke="#a04a1a" stroke-width="0.8"/>
<text transform="translate(635.93 493.90) scale(0.95 1.0)" class="bt">5:55pm</text>
<circle cx="138.10" cy="503" r="5.2" fill="#ffffc8" stroke="#8c8c8c" stroke-width="0.9"/>
<text transform="translate(145.10 507.00) scale(0.95 1.0)" class="bt">8:05am</text>
<circle cx="219.04" cy="503" r="5.2" fill="#ffffc8" stroke="#8c8c8c" stroke-width="0.9"/>
<text transform="translate(226.04 507.00) scale(0.95 1.0)" class="bt">9:27am</text>
<circle cx="300.08" cy="503" r="5.2" fill="#ffffc8" stroke="#8c8c8c" stroke-width="0.9"/>
<text transform="translate(307.08 507.00) scale(0.95 1.0)" class="bt">10:51am</text>
<circle cx="381.02" cy="503" r="5.2" fill="#ffffc8" stroke="#8c8c8c" stroke-width="0.9"/>
<text transform="translate(388.02 507.00) scale(0.95 1.0)" class="bt">12:13pm</text>
<circle cx="461.42" cy="503" r="5.2" fill="#ffffc8" stroke="#8c8c8c" stroke-width="0.9"/>
<text transform="translate(468.42 507.00) scale(0.95 1.0)" class="bt">1:25pm</text>
<circle cx="541.14" cy="503" r="5.2" fill="#ffffc8" stroke="#8c8c8c" stroke-width="0.9"/>
<text transform="translate(548.14 507.00) scale(0.95 1.0)" class="bt">2:24pm</text>
<circle cx="620.00" cy="503" r="5.2" fill="#ffffc8" stroke="#8c8c8c" stroke-width="0.9"/>
<text transform="translate(627.00 507.00) scale(0.95 1.0)" class="bt">3:07pm</text>
<circle cx="698.28" cy="503" r="5.2" fill="#ffffc8" stroke="#8c8c8c" stroke-width="0.9"/>
<text transform="translate(705.28 507.00) scale(0.95 1.0)" class="bt">3:39pm</text>
<circle cx="170.70" cy="516.8" r="5.2" fill="#c8c8b0" stroke="#808080" stroke-width="0.9"/>
<text transform="translate(177.70 520.80) scale(0.95 1.0)" class="bt">6:18pm</text>
<circle cx="248.55" cy="516.8" r="5.2" fill="#c8c8b0" stroke="#808080" stroke-width="0.9"/>
<text transform="translate(255.55 520.80) scale(0.95 1.0)" class="bt">6:42pm</text>
<circle cx="326.78" cy="516.8" r="5.2" fill="#c8c8b0" stroke="#808080" stroke-width="0.9"/>
<text transform="translate(333.78 520.80) scale(0.95 1.0)" class="bt">7:13pm</text>
<circle cx="405.59" cy="516.8" r="5.2" fill="#c8c8b0" stroke="#808080" stroke-width="0.9"/>
<text transform="translate(412.59 520.80) scale(0.95 1.0)" class="bt">7:55pm</text>
<circle cx="485.25" cy="516.8" r="5.2" fill="#c8c8b0" stroke="#808080" stroke-width="0.9"/>
<text transform="translate(492.25 520.80) scale(0.95 1.0)" class="bt">8:53pm</text>
<circle cx="565.60" cy="516.8" r="5.2" fill="#c8c8b0" stroke="#808080" stroke-width="0.9"/>
<text transform="translate(572.60 520.80) scale(0.95 1.0)" class="bt">10:04pm</text>
<circle cx="646.48" cy="516.8" r="5.2" fill="#c8c8b0" stroke="#808080" stroke-width="0.9"/>
<text transform="translate(653.48 520.80) scale(0.95 1.0)" class="bt">11:25pm</text>
<text transform="translate(121.23 533.70) scale(0.98 1.0)" class="bt" text-anchor="end">New Moon</text>
<text transform="translate(124.43 533.70) scale(0.98 1.0)" class="bt" text-anchor="middle">|</text>
<text transform="translate(128.23 533.70) scale(0.98 1.0)" class="bt">3:48am</text>
<text transform="translate(643.97 533.70) scale(0.98 1.0)" class="bt" text-anchor="end">First Quarter</text>
<text transform="translate(647.17 533.70) scale(0.98 1.0)" class="bt" text-anchor="middle">|</text>
<text transform="translate(650.97 533.70) scale(0.98 1.0)" class="bt">11:38pm</text>
</svg>
</body></html>
